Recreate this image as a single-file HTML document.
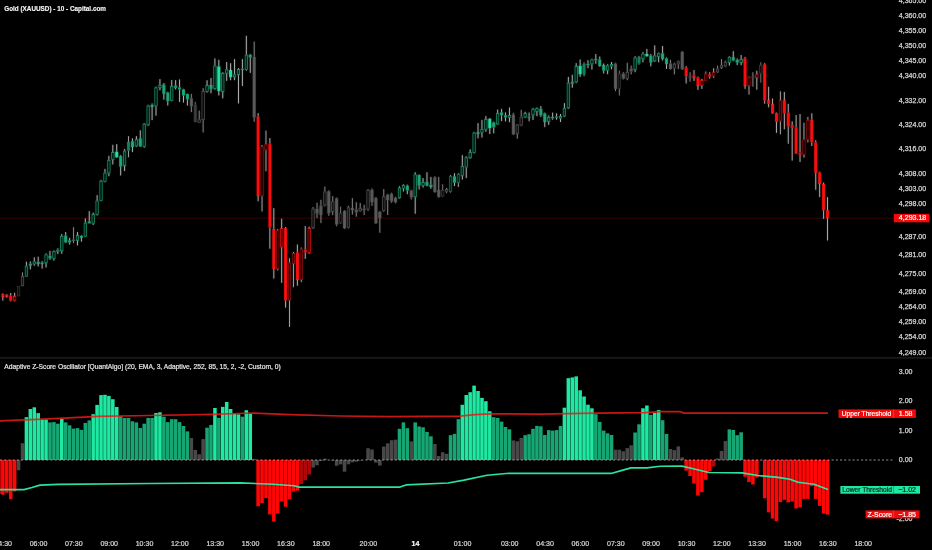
<!DOCTYPE html>
<html lang="en"><head><meta charset="utf-8"><title>Gold (XAUUSD) - Adaptive Z-Score Oscillator</title>
<style>html,body{margin:0;padding:0;background:#000;overflow:hidden}body{width:932px;height:550px}</style>
</head><body>
<svg width="932" height="550" viewBox="0 0 932 550" style="display:block">
<rect x="0" y="0" width="932" height="550" fill="#000"/>
<line x1="0" y1="218.2" x2="894" y2="218.2" stroke="#5a0606" stroke-width="0.9" stroke-opacity="0.7"/>
<defs><filter id="soft" x="-2%" y="-2%" width="104%" height="104%"><feConvolveMatrix order="3" kernelMatrix="0.01 0.045 0.01 0.045 0.78 0.045 0.01 0.045 0.01" divisor="1" edgeMode="none" preserveAlpha="false"/></filter></defs>
<g id="candles" filter="url(#soft)">
<line x1="2.86" y1="293.4" x2="2.86" y2="294.1" stroke="#e0d8d8" stroke-width="0.9"/>
<line x1="2.86" y1="297.0" x2="2.86" y2="300.7" stroke="#e0d8d8" stroke-width="0.9"/>
<rect x="1.31" y="294.1" width="3.1" height="2.9" fill="#ff0a0a"/>
<line x1="6.78" y1="294.1" x2="6.78" y2="294.8" stroke="#e0d8d8" stroke-width="0.9"/>
<line x1="6.78" y1="297.0" x2="6.78" y2="297.7" stroke="#e0d8d8" stroke-width="0.9"/>
<rect x="5.23" y="294.8" width="3.1" height="2.2" fill="#ff0a0a"/>
<line x1="10.71" y1="293.0" x2="10.71" y2="295.6" stroke="#e0d8d8" stroke-width="0.9"/>
<line x1="10.71" y1="300.7" x2="10.71" y2="301.4" stroke="#e0d8d8" stroke-width="0.9"/>
<rect x="9.16" y="295.6" width="3.1" height="5.1" fill="#ff0a0a"/>
<line x1="14.64" y1="292.7" x2="14.64" y2="296.0" stroke="#e0d8d8" stroke-width="0.9"/>
<line x1="14.64" y1="300.7" x2="14.64" y2="301.4" stroke="#e0d8d8" stroke-width="0.9"/>
<rect x="13.46" y="296.4" width="2.35" height="3.9" fill="#000" stroke="#ff0a0a" stroke-width="0.75"/>
<rect x="17.39" y="286.5" width="2.35" height="9.4" fill="#000" stroke="#3c3c3c" stroke-width="0.75"/>
<line x1="22.49" y1="272.3" x2="22.49" y2="275.9" stroke="#a8a8a8" stroke-width="0.9"/>
<rect x="21.32" y="276.3" width="2.35" height="9.5" fill="#000" stroke="#5c5c5c" stroke-width="0.75"/>
<line x1="26.42" y1="261.7" x2="26.42" y2="265.7" stroke="#e0e0e0" stroke-width="0.9"/>
<rect x="25.24" y="266.1" width="2.35" height="10.2" fill="#000" stroke="#1aa87a" stroke-width="0.75"/>
<line x1="30.35" y1="261.4" x2="30.35" y2="263.6" stroke="#e0e0e0" stroke-width="0.9"/>
<line x1="30.35" y1="265.7" x2="30.35" y2="269.4" stroke="#e0e0e0" stroke-width="0.9"/>
<rect x="28.80" y="263.6" width="3.1" height="2.1" fill="#1aa87a"/>
<line x1="34.27" y1="257.3" x2="34.27" y2="261.4" stroke="#e0e0e0" stroke-width="0.9"/>
<line x1="34.27" y1="264.3" x2="34.27" y2="265.7" stroke="#e0e0e0" stroke-width="0.9"/>
<rect x="33.10" y="261.8" width="2.35" height="2.2" fill="#000" stroke="#1aa87a" stroke-width="0.75"/>
<line x1="38.20" y1="256.7" x2="38.20" y2="261.7" stroke="#e0e0e0" stroke-width="0.9"/>
<line x1="38.20" y1="264.0" x2="38.20" y2="266.5" stroke="#e0e0e0" stroke-width="0.9"/>
<rect x="36.65" y="261.7" width="3.1" height="2.3" fill="#1aa87a"/>
<line x1="42.13" y1="261.1" x2="42.13" y2="262.5" stroke="#e0e0e0" stroke-width="0.9"/>
<line x1="42.13" y1="264.0" x2="42.13" y2="268.6" stroke="#e0e0e0" stroke-width="0.9"/>
<rect x="40.58" y="262.5" width="3.1" height="1.5" fill="#1aa87a"/>
<line x1="46.05" y1="253.4" x2="46.05" y2="254.5" stroke="#e0e0e0" stroke-width="0.9"/>
<line x1="46.05" y1="263.1" x2="46.05" y2="267.5" stroke="#e0e0e0" stroke-width="0.9"/>
<rect x="44.88" y="254.9" width="2.35" height="7.9" fill="#000" stroke="#1aa87a" stroke-width="0.75"/>
<line x1="49.98" y1="250.9" x2="49.98" y2="255.8" stroke="#e0e0e0" stroke-width="0.9"/>
<line x1="49.98" y1="258.5" x2="49.98" y2="259.9" stroke="#e0e0e0" stroke-width="0.9"/>
<rect x="48.43" y="255.8" width="3.1" height="2.7" fill="#1aa87a"/>
<line x1="53.91" y1="250.5" x2="53.91" y2="251.2" stroke="#e0e0e0" stroke-width="0.9"/>
<line x1="53.91" y1="258.8" x2="53.91" y2="260.6" stroke="#e0e0e0" stroke-width="0.9"/>
<rect x="52.73" y="251.6" width="2.35" height="6.9" fill="#000" stroke="#1aa87a" stroke-width="0.75"/>
<line x1="57.84" y1="248.3" x2="57.84" y2="249.7" stroke="#e0e0e0" stroke-width="0.9"/>
<line x1="57.84" y1="251.9" x2="57.84" y2="254.1" stroke="#e0e0e0" stroke-width="0.9"/>
<rect x="56.66" y="250.1" width="2.35" height="1.5" fill="#000" stroke="#1aa87a" stroke-width="0.75"/>
<line x1="61.76" y1="234.0" x2="61.76" y2="235.9" stroke="#e0e0e0" stroke-width="0.9"/>
<line x1="61.76" y1="251.2" x2="61.76" y2="253.8" stroke="#e0e0e0" stroke-width="0.9"/>
<rect x="60.59" y="236.3" width="2.35" height="14.5" fill="#000" stroke="#1aa87a" stroke-width="0.75"/>
<line x1="65.69" y1="232.0" x2="65.69" y2="235.5" stroke="#e0e0e0" stroke-width="0.9"/>
<line x1="65.69" y1="242.5" x2="65.69" y2="243.2" stroke="#e0e0e0" stroke-width="0.9"/>
<rect x="64.14" y="235.5" width="3.1" height="7.0" fill="#1aa87a"/>
<line x1="69.62" y1="237.8" x2="69.62" y2="240.3" stroke="#e0e0e0" stroke-width="0.9"/>
<line x1="69.62" y1="242.5" x2="69.62" y2="244.6" stroke="#e0e0e0" stroke-width="0.9"/>
<rect x="68.07" y="240.3" width="3.1" height="2.2" fill="#1aa87a"/>
<line x1="73.54" y1="227.2" x2="73.54" y2="239.5" stroke="#a8a8a8" stroke-width="0.9"/>
<line x1="73.54" y1="241.0" x2="73.54" y2="243.2" stroke="#a8a8a8" stroke-width="0.9"/>
<rect x="71.99" y="239.5" width="3.1" height="1.5" fill="#5c5c5c"/>
<line x1="77.47" y1="232.0" x2="77.47" y2="235.2" stroke="#e0e0e0" stroke-width="0.9"/>
<line x1="77.47" y1="240.7" x2="77.47" y2="245.4" stroke="#e0e0e0" stroke-width="0.9"/>
<rect x="76.30" y="235.6" width="2.35" height="4.8" fill="#000" stroke="#1aa87a" stroke-width="0.75"/>
<line x1="81.40" y1="235.2" x2="81.40" y2="235.9" stroke="#e0e0e0" stroke-width="0.9"/>
<line x1="81.40" y1="238.1" x2="81.40" y2="241.7" stroke="#e0e0e0" stroke-width="0.9"/>
<rect x="79.85" y="235.9" width="3.1" height="2.2" fill="#1aa87a"/>
<line x1="85.32" y1="218.4" x2="85.32" y2="222.7" stroke="#e0e0e0" stroke-width="0.9"/>
<line x1="85.32" y1="236.6" x2="85.32" y2="237.0" stroke="#e0e0e0" stroke-width="0.9"/>
<rect x="84.15" y="223.1" width="2.35" height="13.2" fill="#000" stroke="#1aa87a" stroke-width="0.75"/>
<line x1="89.25" y1="211.1" x2="89.25" y2="221.3" stroke="#e0e0e0" stroke-width="0.9"/>
<rect x="87.70" y="221.3" width="3.1" height="2.2" fill="#1aa87a"/>
<line x1="93.18" y1="212.6" x2="93.18" y2="214.0" stroke="#e0e0e0" stroke-width="0.9"/>
<line x1="93.18" y1="223.5" x2="93.18" y2="225.0" stroke="#e0e0e0" stroke-width="0.9"/>
<rect x="92.00" y="214.4" width="2.35" height="8.8" fill="#000" stroke="#1aa87a" stroke-width="0.75"/>
<line x1="97.11" y1="195.1" x2="97.11" y2="200.6" stroke="#e0e0e0" stroke-width="0.9"/>
<line x1="97.11" y1="214.7" x2="97.11" y2="215.5" stroke="#e0e0e0" stroke-width="0.9"/>
<rect x="95.93" y="201.0" width="2.35" height="13.3" fill="#000" stroke="#1aa87a" stroke-width="0.75"/>
<line x1="101.03" y1="179.8" x2="101.03" y2="180.8" stroke="#e0e0e0" stroke-width="0.9"/>
<line x1="101.03" y1="200.9" x2="101.03" y2="201.2" stroke="#e0e0e0" stroke-width="0.9"/>
<rect x="99.86" y="181.2" width="2.35" height="19.3" fill="#000" stroke="#1aa87a" stroke-width="0.75"/>
<line x1="104.96" y1="168.9" x2="104.96" y2="172.6" stroke="#e0e0e0" stroke-width="0.9"/>
<line x1="104.96" y1="181.7" x2="104.96" y2="182.3" stroke="#e0e0e0" stroke-width="0.9"/>
<rect x="103.78" y="173.0" width="2.35" height="8.3" fill="#000" stroke="#1aa87a" stroke-width="0.75"/>
<line x1="108.89" y1="155.8" x2="108.89" y2="159.9" stroke="#e0e0e0" stroke-width="0.9"/>
<line x1="108.89" y1="173.3" x2="108.89" y2="176.2" stroke="#e0e0e0" stroke-width="0.9"/>
<rect x="107.71" y="160.3" width="2.35" height="12.7" fill="#000" stroke="#1aa87a" stroke-width="0.75"/>
<line x1="112.81" y1="144.8" x2="112.81" y2="152.2" stroke="#e0e0e0" stroke-width="0.9"/>
<line x1="112.81" y1="159.9" x2="112.81" y2="164.5" stroke="#e0e0e0" stroke-width="0.9"/>
<rect x="111.64" y="152.6" width="2.35" height="7.0" fill="#000" stroke="#1aa87a" stroke-width="0.75"/>
<line x1="116.74" y1="144.1" x2="116.74" y2="151.7" stroke="#e6e6e6" stroke-width="0.9"/>
<line x1="116.74" y1="157.3" x2="116.74" y2="158.0" stroke="#e6e6e6" stroke-width="0.9"/>
<rect x="115.19" y="151.7" width="3.1" height="5.6" fill="#24e8a2"/>
<line x1="120.67" y1="155.1" x2="120.67" y2="156.1" stroke="#e0e0e0" stroke-width="0.9"/>
<line x1="120.67" y1="166.7" x2="120.67" y2="175.5" stroke="#e0e0e0" stroke-width="0.9"/>
<rect x="119.12" y="156.1" width="3.1" height="10.6" fill="#1aa87a"/>
<line x1="124.59" y1="149.0" x2="124.59" y2="150.7" stroke="#e0e0e0" stroke-width="0.9"/>
<line x1="124.59" y1="166.0" x2="124.59" y2="171.1" stroke="#e0e0e0" stroke-width="0.9"/>
<rect x="123.42" y="151.1" width="2.35" height="14.6" fill="#000" stroke="#1aa87a" stroke-width="0.75"/>
<line x1="128.52" y1="136.1" x2="128.52" y2="141.9" stroke="#c8c8c8" stroke-width="0.9"/>
<line x1="128.52" y1="150.7" x2="128.52" y2="157.3" stroke="#c8c8c8" stroke-width="0.9"/>
<rect x="126.97" y="141.9" width="3.1" height="8.8" fill="#15805c"/>
<line x1="132.45" y1="138.3" x2="132.45" y2="141.2" stroke="#e0e0e0" stroke-width="0.9"/>
<line x1="132.45" y1="147.0" x2="132.45" y2="152.1" stroke="#e0e0e0" stroke-width="0.9"/>
<rect x="130.90" y="141.2" width="3.1" height="5.8" fill="#1aa87a"/>
<line x1="136.38" y1="136.1" x2="136.38" y2="139.0" stroke="#e0e0e0" stroke-width="0.9"/>
<line x1="136.38" y1="146.3" x2="136.38" y2="147.0" stroke="#e0e0e0" stroke-width="0.9"/>
<rect x="135.20" y="139.4" width="2.35" height="6.6" fill="#000" stroke="#1aa87a" stroke-width="0.75"/>
<line x1="140.30" y1="130.3" x2="140.30" y2="138.3" stroke="#e0e0e0" stroke-width="0.9"/>
<line x1="140.30" y1="146.6" x2="140.30" y2="147.0" stroke="#e0e0e0" stroke-width="0.9"/>
<rect x="138.75" y="138.3" width="3.1" height="8.3" fill="#1aa87a"/>
<line x1="144.23" y1="123.0" x2="144.23" y2="123.7" stroke="#e0e0e0" stroke-width="0.9"/>
<line x1="144.23" y1="147.0" x2="144.23" y2="147.7" stroke="#e0e0e0" stroke-width="0.9"/>
<rect x="143.05" y="124.1" width="2.35" height="22.5" fill="#000" stroke="#1aa87a" stroke-width="0.75"/>
<line x1="148.16" y1="104.8" x2="148.16" y2="105.6" stroke="#e0e0e0" stroke-width="0.9"/>
<line x1="148.16" y1="125.2" x2="148.16" y2="125.9" stroke="#e0e0e0" stroke-width="0.9"/>
<rect x="146.98" y="106.0" width="2.35" height="18.9" fill="#000" stroke="#1aa87a" stroke-width="0.75"/>
<line x1="152.08" y1="103.4" x2="152.08" y2="104.8" stroke="#e0e0e0" stroke-width="0.9"/>
<line x1="152.08" y1="107.0" x2="152.08" y2="120.1" stroke="#e0e0e0" stroke-width="0.9"/>
<rect x="150.53" y="104.8" width="3.1" height="2.2" fill="#1aa87a"/>
<line x1="156.01" y1="86.6" x2="156.01" y2="87.4" stroke="#e0e0e0" stroke-width="0.9"/>
<line x1="156.01" y1="106.3" x2="156.01" y2="115.7" stroke="#e0e0e0" stroke-width="0.9"/>
<rect x="154.83" y="87.8" width="2.35" height="18.1" fill="#000" stroke="#1aa87a" stroke-width="0.75"/>
<line x1="159.94" y1="79.1" x2="159.94" y2="84.9" stroke="#e0e0e0" stroke-width="0.9"/>
<line x1="159.94" y1="87.8" x2="159.94" y2="90.3" stroke="#e0e0e0" stroke-width="0.9"/>
<rect x="158.76" y="85.3" width="2.35" height="2.1" fill="#000" stroke="#1aa87a" stroke-width="0.75"/>
<line x1="163.86" y1="83.0" x2="163.86" y2="84.5" stroke="#e0e0e0" stroke-width="0.9"/>
<line x1="163.86" y1="93.9" x2="163.86" y2="99.7" stroke="#e0e0e0" stroke-width="0.9"/>
<rect x="162.31" y="84.5" width="3.1" height="9.4" fill="#1aa87a"/>
<line x1="167.79" y1="91.7" x2="167.79" y2="92.5" stroke="#e0e0e0" stroke-width="0.9"/>
<line x1="167.79" y1="101.2" x2="167.79" y2="105.6" stroke="#e0e0e0" stroke-width="0.9"/>
<rect x="166.24" y="92.5" width="3.1" height="8.7" fill="#1aa87a"/>
<line x1="171.72" y1="80.1" x2="171.72" y2="85.9" stroke="#e0e0e0" stroke-width="0.9"/>
<line x1="171.72" y1="100.9" x2="171.72" y2="101.2" stroke="#e0e0e0" stroke-width="0.9"/>
<rect x="170.54" y="86.3" width="2.35" height="14.2" fill="#000" stroke="#1aa87a" stroke-width="0.75"/>
<line x1="175.64" y1="80.1" x2="175.64" y2="85.5" stroke="#e0e0e0" stroke-width="0.9"/>
<line x1="175.64" y1="87.8" x2="175.64" y2="89.5" stroke="#e0e0e0" stroke-width="0.9"/>
<rect x="174.09" y="85.5" width="3.1" height="2.3" fill="#1aa87a"/>
<line x1="179.57" y1="79.4" x2="179.57" y2="87.4" stroke="#e0e0e0" stroke-width="0.9"/>
<line x1="179.57" y1="89.5" x2="179.57" y2="101.9" stroke="#e0e0e0" stroke-width="0.9"/>
<rect x="178.02" y="87.4" width="3.1" height="2.1" fill="#1aa87a"/>
<line x1="183.50" y1="88.8" x2="183.50" y2="89.3" stroke="#e0e0e0" stroke-width="0.9"/>
<line x1="183.50" y1="95.4" x2="183.50" y2="102.6" stroke="#e0e0e0" stroke-width="0.9"/>
<rect x="181.95" y="89.3" width="3.1" height="6.1" fill="#1aa87a"/>
<line x1="187.43" y1="93.6" x2="187.43" y2="93.9" stroke="#e0e0e0" stroke-width="0.9"/>
<line x1="187.43" y1="99.4" x2="187.43" y2="105.6" stroke="#e0e0e0" stroke-width="0.9"/>
<rect x="185.88" y="93.9" width="3.1" height="5.5" fill="#1aa87a"/>
<line x1="191.35" y1="93.9" x2="191.35" y2="98.3" stroke="#a8a8a8" stroke-width="0.9"/>
<line x1="191.35" y1="106.3" x2="191.35" y2="112.1" stroke="#a8a8a8" stroke-width="0.9"/>
<rect x="189.80" y="98.3" width="3.1" height="8.0" fill="#5c5c5c"/>
<line x1="195.28" y1="101.9" x2="195.28" y2="104.8" stroke="#909090" stroke-width="0.9"/>
<rect x="193.73" y="104.8" width="3.1" height="17.5" fill="#3c3c3c"/>
<line x1="199.21" y1="110.6" x2="199.21" y2="119.4" stroke="#a8a8a8" stroke-width="0.9"/>
<rect x="198.03" y="119.8" width="2.35" height="2.5" fill="#000" stroke="#5c5c5c" stroke-width="0.75"/>
<line x1="203.13" y1="88.1" x2="203.13" y2="91.0" stroke="#a8a8a8" stroke-width="0.9"/>
<line x1="203.13" y1="120.1" x2="203.13" y2="132.5" stroke="#a8a8a8" stroke-width="0.9"/>
<rect x="201.96" y="91.4" width="2.35" height="28.3" fill="#000" stroke="#5c5c5c" stroke-width="0.75"/>
<line x1="207.06" y1="80.2" x2="207.06" y2="85.0" stroke="#e0e0e0" stroke-width="0.9"/>
<line x1="207.06" y1="91.8" x2="207.06" y2="92.6" stroke="#e0e0e0" stroke-width="0.9"/>
<rect x="205.89" y="85.4" width="2.35" height="6.0" fill="#000" stroke="#1aa87a" stroke-width="0.75"/>
<line x1="210.99" y1="78.0" x2="210.99" y2="85.0" stroke="#e0e0e0" stroke-width="0.9"/>
<line x1="210.99" y1="88.9" x2="210.99" y2="93.3" stroke="#e0e0e0" stroke-width="0.9"/>
<rect x="209.44" y="85.0" width="3.1" height="3.9" fill="#1aa87a"/>
<line x1="214.92" y1="58.4" x2="214.92" y2="65.6" stroke="#e0e0e0" stroke-width="0.9"/>
<line x1="214.92" y1="88.9" x2="214.92" y2="89.7" stroke="#e0e0e0" stroke-width="0.9"/>
<rect x="213.74" y="66.0" width="2.35" height="22.6" fill="#000" stroke="#1aa87a" stroke-width="0.75"/>
<line x1="218.84" y1="59.8" x2="218.84" y2="66.4" stroke="#e6e6e6" stroke-width="0.9"/>
<line x1="218.84" y1="91.1" x2="218.84" y2="95.5" stroke="#e6e6e6" stroke-width="0.9"/>
<rect x="217.29" y="66.4" width="3.1" height="24.7" fill="#24e8a2"/>
<line x1="222.77" y1="72.2" x2="222.77" y2="72.9" stroke="#e0e0e0" stroke-width="0.9"/>
<line x1="222.77" y1="91.8" x2="222.77" y2="98.4" stroke="#e0e0e0" stroke-width="0.9"/>
<rect x="221.59" y="73.3" width="2.35" height="18.1" fill="#000" stroke="#1aa87a" stroke-width="0.75"/>
<line x1="226.70" y1="62.0" x2="226.70" y2="69.3" stroke="#e0e0e0" stroke-width="0.9"/>
<line x1="226.70" y1="73.6" x2="226.70" y2="80.9" stroke="#e0e0e0" stroke-width="0.9"/>
<rect x="225.52" y="69.7" width="2.35" height="3.5" fill="#000" stroke="#1aa87a" stroke-width="0.75"/>
<line x1="230.62" y1="63.2" x2="230.62" y2="70.0" stroke="#e6e6e6" stroke-width="0.9"/>
<line x1="230.62" y1="77.3" x2="230.62" y2="80.2" stroke="#e6e6e6" stroke-width="0.9"/>
<rect x="229.07" y="70.0" width="3.1" height="7.3" fill="#24e8a2"/>
<line x1="234.55" y1="59.1" x2="234.55" y2="74.4" stroke="#e0e0e0" stroke-width="0.9"/>
<line x1="234.55" y1="77.3" x2="234.55" y2="80.2" stroke="#e0e0e0" stroke-width="0.9"/>
<rect x="233.38" y="74.8" width="2.35" height="2.1" fill="#000" stroke="#1aa87a" stroke-width="0.75"/>
<line x1="238.48" y1="68.1" x2="238.48" y2="69.0" stroke="#e0e0e0" stroke-width="0.9"/>
<line x1="238.48" y1="75.1" x2="238.48" y2="103.5" stroke="#e0e0e0" stroke-width="0.9"/>
<rect x="237.30" y="69.4" width="2.35" height="5.3" fill="#000" stroke="#1aa87a" stroke-width="0.75"/>
<line x1="242.40" y1="59.1" x2="242.40" y2="68.7" stroke="#e0e0e0" stroke-width="0.9"/>
<line x1="242.40" y1="69.9" x2="242.40" y2="86.0" stroke="#e0e0e0" stroke-width="0.9"/>
<rect x="240.85" y="68.7" width="3.1" height="1.2" fill="#1aa87a"/>
<line x1="246.33" y1="35.8" x2="246.33" y2="54.7" stroke="#e0e0e0" stroke-width="0.9"/>
<line x1="246.33" y1="70.0" x2="246.33" y2="70.7" stroke="#e0e0e0" stroke-width="0.9"/>
<rect x="245.16" y="55.1" width="2.35" height="14.5" fill="#000" stroke="#1aa87a" stroke-width="0.75"/>
<line x1="250.26" y1="54.0" x2="250.26" y2="54.7" stroke="#e0e0e0" stroke-width="0.9"/>
<line x1="250.26" y1="57.6" x2="250.26" y2="72.9" stroke="#e0e0e0" stroke-width="0.9"/>
<rect x="248.71" y="54.7" width="3.1" height="2.9" fill="#1aa87a"/>
<line x1="254.19" y1="41.6" x2="254.19" y2="56.9" stroke="#a8a8a8" stroke-width="0.9"/>
<line x1="254.19" y1="117.5" x2="254.19" y2="121.8" stroke="#a8a8a8" stroke-width="0.9"/>
<rect x="252.63" y="56.9" width="3.1" height="60.6" fill="#5c5c5c"/>
<line x1="258.11" y1="113.1" x2="258.11" y2="116.7" stroke="#e0d8d8" stroke-width="0.9"/>
<line x1="258.11" y1="195.9" x2="258.11" y2="201.3" stroke="#e0d8d8" stroke-width="0.9"/>
<rect x="256.56" y="116.7" width="3.1" height="79.2" fill="#ff0a0a"/>
<line x1="262.04" y1="145.0" x2="262.04" y2="146.6" stroke="#d0c8c8" stroke-width="0.9"/>
<line x1="262.04" y1="196.2" x2="262.04" y2="211.5" stroke="#d0c8c8" stroke-width="0.9"/>
<rect x="260.86" y="147.0" width="2.35" height="48.8" fill="#000" stroke="#a80c0c" stroke-width="0.75"/>
<line x1="265.97" y1="130.6" x2="265.97" y2="144.4" stroke="#d0c8c8" stroke-width="0.9"/>
<line x1="265.97" y1="150.2" x2="265.97" y2="171.3" stroke="#d0c8c8" stroke-width="0.9"/>
<rect x="264.79" y="144.8" width="2.35" height="5.0" fill="#000" stroke="#a80c0c" stroke-width="0.75"/>
<line x1="269.89" y1="138.1" x2="269.89" y2="143.6" stroke="#e0d8d8" stroke-width="0.9"/>
<line x1="269.89" y1="227.5" x2="269.89" y2="248.7" stroke="#e0d8d8" stroke-width="0.9"/>
<rect x="268.34" y="143.6" width="3.1" height="83.9" fill="#ff0a0a"/>
<line x1="273.82" y1="208.1" x2="273.82" y2="228.9" stroke="#e0d8d8" stroke-width="0.9"/>
<line x1="273.82" y1="269.1" x2="273.82" y2="278.6" stroke="#e0d8d8" stroke-width="0.9"/>
<rect x="272.27" y="228.9" width="3.1" height="40.2" fill="#ff0a0a"/>
<line x1="277.75" y1="229.0" x2="277.75" y2="230.4" stroke="#d0c8c8" stroke-width="0.9"/>
<line x1="277.75" y1="269.1" x2="277.75" y2="270.5" stroke="#d0c8c8" stroke-width="0.9"/>
<rect x="276.57" y="230.8" width="2.35" height="38.0" fill="#000" stroke="#a80c0c" stroke-width="0.75"/>
<line x1="281.67" y1="218.7" x2="281.67" y2="228.2" stroke="#e0d8d8" stroke-width="0.9"/>
<line x1="281.67" y1="247.3" x2="281.67" y2="282.9" stroke="#e0d8d8" stroke-width="0.9"/>
<rect x="280.50" y="228.6" width="2.35" height="18.4" fill="#000" stroke="#ff0a0a" stroke-width="0.75"/>
<line x1="285.60" y1="227.0" x2="285.60" y2="228.2" stroke="#e0d8d8" stroke-width="0.9"/>
<line x1="285.60" y1="300.4" x2="285.60" y2="307.7" stroke="#e0d8d8" stroke-width="0.9"/>
<rect x="284.05" y="228.2" width="3.1" height="72.2" fill="#ff0a0a"/>
<line x1="289.53" y1="258.2" x2="289.53" y2="262.6" stroke="#d0c8c8" stroke-width="0.9"/>
<line x1="289.53" y1="300.4" x2="289.53" y2="327.0" stroke="#d0c8c8" stroke-width="0.9"/>
<rect x="288.35" y="263.0" width="2.35" height="37.0" fill="#000" stroke="#a80c0c" stroke-width="0.75"/>
<line x1="293.45" y1="252.0" x2="293.45" y2="253.1" stroke="#d0c8c8" stroke-width="0.9"/>
<line x1="293.45" y1="264.0" x2="293.45" y2="287.3" stroke="#d0c8c8" stroke-width="0.9"/>
<rect x="292.28" y="253.5" width="2.35" height="10.2" fill="#000" stroke="#a80c0c" stroke-width="0.75"/>
<line x1="297.38" y1="244.4" x2="297.38" y2="252.4" stroke="#e0d8d8" stroke-width="0.9"/>
<line x1="297.38" y1="280.0" x2="297.38" y2="285.8" stroke="#e0d8d8" stroke-width="0.9"/>
<rect x="295.83" y="252.4" width="3.1" height="27.6" fill="#ff0a0a"/>
<line x1="301.31" y1="247.5" x2="301.31" y2="248.7" stroke="#d0c8c8" stroke-width="0.9"/>
<line x1="301.31" y1="280.0" x2="301.31" y2="282.2" stroke="#d0c8c8" stroke-width="0.9"/>
<rect x="300.13" y="249.1" width="2.35" height="30.6" fill="#000" stroke="#a80c0c" stroke-width="0.75"/>
<line x1="305.24" y1="226.0" x2="305.24" y2="249.5" stroke="#e0d8d8" stroke-width="0.9"/>
<line x1="305.24" y1="252.4" x2="305.24" y2="258.9" stroke="#e0d8d8" stroke-width="0.9"/>
<rect x="303.69" y="249.5" width="3.1" height="2.9" fill="#ff0a0a"/>
<line x1="309.16" y1="226.7" x2="309.16" y2="228.2" stroke="#e0d8d8" stroke-width="0.9"/>
<line x1="309.16" y1="253.1" x2="309.16" y2="253.8" stroke="#e0d8d8" stroke-width="0.9"/>
<rect x="307.99" y="228.6" width="2.35" height="24.2" fill="#000" stroke="#ff0a0a" stroke-width="0.75"/>
<line x1="313.09" y1="207.0" x2="313.09" y2="208.6" stroke="#a8a8a8" stroke-width="0.9"/>
<line x1="313.09" y1="228.2" x2="313.09" y2="229.0" stroke="#a8a8a8" stroke-width="0.9"/>
<rect x="311.91" y="209.0" width="2.35" height="18.8" fill="#000" stroke="#5c5c5c" stroke-width="0.75"/>
<line x1="317.02" y1="202.7" x2="317.02" y2="208.6" stroke="#a8a8a8" stroke-width="0.9"/>
<line x1="317.02" y1="213.7" x2="317.02" y2="218.0" stroke="#a8a8a8" stroke-width="0.9"/>
<rect x="315.47" y="208.6" width="3.1" height="5.1" fill="#5c5c5c"/>
<line x1="320.94" y1="199.8" x2="320.94" y2="205.5" stroke="#a8a8a8" stroke-width="0.9"/>
<line x1="320.94" y1="215.0" x2="320.94" y2="223.1" stroke="#a8a8a8" stroke-width="0.9"/>
<rect x="319.39" y="205.5" width="3.1" height="9.5" fill="#5c5c5c"/>
<line x1="324.87" y1="186.6" x2="324.87" y2="191.5" stroke="#a8a8a8" stroke-width="0.9"/>
<line x1="324.87" y1="205.3" x2="324.87" y2="206.4" stroke="#a8a8a8" stroke-width="0.9"/>
<rect x="323.70" y="191.9" width="2.35" height="13.1" fill="#000" stroke="#5c5c5c" stroke-width="0.75"/>
<line x1="328.80" y1="190.4" x2="328.80" y2="191.2" stroke="#a8a8a8" stroke-width="0.9"/>
<line x1="328.80" y1="213.5" x2="328.80" y2="215.8" stroke="#a8a8a8" stroke-width="0.9"/>
<rect x="327.25" y="191.2" width="3.1" height="22.3" fill="#5c5c5c"/>
<line x1="332.72" y1="196.1" x2="332.72" y2="201.4" stroke="#a8a8a8" stroke-width="0.9"/>
<line x1="332.72" y1="212.0" x2="332.72" y2="215.2" stroke="#a8a8a8" stroke-width="0.9"/>
<rect x="331.55" y="201.8" width="2.35" height="9.8" fill="#000" stroke="#5c5c5c" stroke-width="0.75"/>
<line x1="336.65" y1="197.5" x2="336.65" y2="198.2" stroke="#a8a8a8" stroke-width="0.9"/>
<line x1="336.65" y1="224.5" x2="336.65" y2="226.2" stroke="#a8a8a8" stroke-width="0.9"/>
<rect x="335.10" y="198.2" width="3.1" height="26.3" fill="#5c5c5c"/>
<line x1="340.58" y1="206.6" x2="340.58" y2="213.1" stroke="#909090" stroke-width="0.9"/>
<line x1="340.58" y1="223.3" x2="340.58" y2="224.0" stroke="#909090" stroke-width="0.9"/>
<rect x="339.40" y="213.5" width="2.35" height="9.5" fill="#000" stroke="#3c3c3c" stroke-width="0.75"/>
<line x1="344.51" y1="210.2" x2="344.51" y2="210.9" stroke="#a8a8a8" stroke-width="0.9"/>
<line x1="344.51" y1="228.4" x2="344.51" y2="229.1" stroke="#a8a8a8" stroke-width="0.9"/>
<rect x="342.96" y="210.9" width="3.1" height="17.5" fill="#5c5c5c"/>
<line x1="348.43" y1="205.8" x2="348.43" y2="207.3" stroke="#a8a8a8" stroke-width="0.9"/>
<line x1="348.43" y1="227.7" x2="348.43" y2="228.4" stroke="#a8a8a8" stroke-width="0.9"/>
<rect x="347.26" y="207.7" width="2.35" height="19.6" fill="#000" stroke="#5c5c5c" stroke-width="0.75"/>
<line x1="352.36" y1="198.1" x2="352.36" y2="208.0" stroke="#a8a8a8" stroke-width="0.9"/>
<line x1="352.36" y1="210.2" x2="352.36" y2="214.6" stroke="#a8a8a8" stroke-width="0.9"/>
<rect x="350.81" y="208.0" width="3.1" height="2.2" fill="#5c5c5c"/>
<line x1="356.29" y1="202.2" x2="356.29" y2="209.5" stroke="#a8a8a8" stroke-width="0.9"/>
<line x1="356.29" y1="212.4" x2="356.29" y2="216.7" stroke="#a8a8a8" stroke-width="0.9"/>
<rect x="354.74" y="209.5" width="3.1" height="2.9" fill="#5c5c5c"/>
<line x1="360.21" y1="202.9" x2="360.21" y2="208.0" stroke="#a8a8a8" stroke-width="0.9"/>
<line x1="360.21" y1="211.2" x2="360.21" y2="211.7" stroke="#a8a8a8" stroke-width="0.9"/>
<rect x="359.04" y="208.4" width="2.35" height="2.4" fill="#000" stroke="#5c5c5c" stroke-width="0.75"/>
<line x1="364.14" y1="204.8" x2="364.14" y2="208.7" stroke="#a8a8a8" stroke-width="0.9"/>
<line x1="364.14" y1="210.2" x2="364.14" y2="215.0" stroke="#a8a8a8" stroke-width="0.9"/>
<rect x="362.59" y="208.7" width="3.1" height="1.5" fill="#5c5c5c"/>
<line x1="368.07" y1="189.1" x2="368.07" y2="189.8" stroke="#a8a8a8" stroke-width="0.9"/>
<line x1="368.07" y1="209.5" x2="368.07" y2="210.9" stroke="#a8a8a8" stroke-width="0.9"/>
<rect x="366.89" y="190.2" width="2.35" height="18.9" fill="#000" stroke="#5c5c5c" stroke-width="0.75"/>
<line x1="372.00" y1="188.4" x2="372.00" y2="189.8" stroke="#a8a8a8" stroke-width="0.9"/>
<line x1="372.00" y1="202.2" x2="372.00" y2="205.8" stroke="#a8a8a8" stroke-width="0.9"/>
<rect x="370.44" y="189.8" width="3.1" height="12.4" fill="#5c5c5c"/>
<line x1="375.92" y1="197.1" x2="375.92" y2="198.1" stroke="#a8a8a8" stroke-width="0.9"/>
<line x1="375.92" y1="223.3" x2="375.92" y2="224.0" stroke="#a8a8a8" stroke-width="0.9"/>
<rect x="374.37" y="198.1" width="3.1" height="25.2" fill="#5c5c5c"/>
<line x1="379.85" y1="210.9" x2="379.85" y2="211.7" stroke="#a8a8a8" stroke-width="0.9"/>
<line x1="379.85" y1="218.2" x2="379.85" y2="232.8" stroke="#a8a8a8" stroke-width="0.9"/>
<rect x="378.30" y="211.7" width="3.1" height="6.5" fill="#5c5c5c"/>
<line x1="383.78" y1="189.1" x2="383.78" y2="196.4" stroke="#a8a8a8" stroke-width="0.9"/>
<line x1="383.78" y1="210.9" x2="383.78" y2="211.7" stroke="#a8a8a8" stroke-width="0.9"/>
<rect x="382.60" y="196.8" width="2.35" height="13.8" fill="#000" stroke="#5c5c5c" stroke-width="0.75"/>
<line x1="387.70" y1="193.8" x2="387.70" y2="194.6" stroke="#a8a8a8" stroke-width="0.9"/>
<line x1="387.70" y1="200.0" x2="387.70" y2="215.0" stroke="#a8a8a8" stroke-width="0.9"/>
<rect x="386.15" y="194.6" width="3.1" height="5.4" fill="#5c5c5c"/>
<line x1="391.63" y1="192.7" x2="391.63" y2="193.8" stroke="#a8a8a8" stroke-width="0.9"/>
<line x1="391.63" y1="201.5" x2="391.63" y2="202.9" stroke="#a8a8a8" stroke-width="0.9"/>
<rect x="390.08" y="193.8" width="3.1" height="7.7" fill="#5c5c5c"/>
<line x1="395.56" y1="196.7" x2="395.56" y2="197.8" stroke="#a8a8a8" stroke-width="0.9"/>
<line x1="395.56" y1="202.2" x2="395.56" y2="203.4" stroke="#a8a8a8" stroke-width="0.9"/>
<rect x="394.01" y="197.8" width="3.1" height="4.4" fill="#5c5c5c"/>
<line x1="399.48" y1="186.2" x2="399.48" y2="187.6" stroke="#e0e0e0" stroke-width="0.9"/>
<line x1="399.48" y1="198.1" x2="399.48" y2="198.6" stroke="#e0e0e0" stroke-width="0.9"/>
<rect x="398.31" y="188.0" width="2.35" height="9.8" fill="#000" stroke="#1aa87a" stroke-width="0.75"/>
<line x1="403.41" y1="184.3" x2="403.41" y2="185.0" stroke="#e0e0e0" stroke-width="0.9"/>
<line x1="403.41" y1="188.5" x2="403.41" y2="191.5" stroke="#e0e0e0" stroke-width="0.9"/>
<rect x="402.24" y="185.4" width="2.35" height="2.8" fill="#000" stroke="#1aa87a" stroke-width="0.75"/>
<line x1="407.34" y1="184.6" x2="407.34" y2="185.6" stroke="#e0e0e0" stroke-width="0.9"/>
<line x1="407.34" y1="190.6" x2="407.34" y2="194.2" stroke="#e0e0e0" stroke-width="0.9"/>
<rect x="405.79" y="185.6" width="3.1" height="5.0" fill="#1aa87a"/>
<line x1="411.26" y1="189.8" x2="411.26" y2="190.3" stroke="#a8a8a8" stroke-width="0.9"/>
<line x1="411.26" y1="197.4" x2="411.26" y2="199.5" stroke="#a8a8a8" stroke-width="0.9"/>
<rect x="409.71" y="190.3" width="3.1" height="7.1" fill="#5c5c5c"/>
<line x1="415.19" y1="172.2" x2="415.19" y2="174.4" stroke="#e0e0e0" stroke-width="0.9"/>
<line x1="415.19" y1="197.2" x2="415.19" y2="213.8" stroke="#e0e0e0" stroke-width="0.9"/>
<rect x="414.02" y="174.8" width="2.35" height="22.0" fill="#000" stroke="#1aa87a" stroke-width="0.75"/>
<line x1="419.12" y1="174.5" x2="419.12" y2="175.0" stroke="#e0e0e0" stroke-width="0.9"/>
<line x1="419.12" y1="185.7" x2="419.12" y2="189.6" stroke="#e0e0e0" stroke-width="0.9"/>
<rect x="417.57" y="175.0" width="3.1" height="10.7" fill="#1aa87a"/>
<line x1="423.05" y1="178.0" x2="423.05" y2="182.0" stroke="#e0e0e0" stroke-width="0.9"/>
<line x1="423.05" y1="185.7" x2="423.05" y2="187.6" stroke="#e0e0e0" stroke-width="0.9"/>
<rect x="421.87" y="182.4" width="2.35" height="2.9" fill="#000" stroke="#1aa87a" stroke-width="0.75"/>
<line x1="426.97" y1="172.2" x2="426.97" y2="181.8" stroke="#e0e0e0" stroke-width="0.9"/>
<line x1="426.97" y1="185.9" x2="426.97" y2="186.3" stroke="#e0e0e0" stroke-width="0.9"/>
<rect x="425.42" y="181.8" width="3.1" height="4.1" fill="#1aa87a"/>
<line x1="430.90" y1="176.9" x2="430.90" y2="184.6" stroke="#e0e0e0" stroke-width="0.9"/>
<line x1="430.90" y1="187.0" x2="430.90" y2="188.8" stroke="#e0e0e0" stroke-width="0.9"/>
<rect x="429.35" y="184.6" width="3.1" height="2.4" fill="#1aa87a"/>
<line x1="434.83" y1="176.2" x2="434.83" y2="177.3" stroke="#a8a8a8" stroke-width="0.9"/>
<line x1="434.83" y1="192.0" x2="434.83" y2="192.7" stroke="#a8a8a8" stroke-width="0.9"/>
<rect x="433.28" y="177.3" width="3.1" height="14.7" fill="#5c5c5c"/>
<line x1="438.75" y1="176.9" x2="438.75" y2="190.0" stroke="#a8a8a8" stroke-width="0.9"/>
<line x1="438.75" y1="196.9" x2="438.75" y2="197.7" stroke="#a8a8a8" stroke-width="0.9"/>
<rect x="437.20" y="190.0" width="3.1" height="6.9" fill="#5c5c5c"/>
<line x1="442.68" y1="184.2" x2="442.68" y2="190.0" stroke="#909090" stroke-width="0.9"/>
<line x1="442.68" y1="196.4" x2="442.68" y2="197.1" stroke="#909090" stroke-width="0.9"/>
<rect x="441.51" y="190.4" width="2.35" height="5.7" fill="#000" stroke="#3c3c3c" stroke-width="0.75"/>
<line x1="446.61" y1="187.9" x2="446.61" y2="189.0" stroke="#a8a8a8" stroke-width="0.9"/>
<line x1="446.61" y1="191.6" x2="446.61" y2="193.2" stroke="#a8a8a8" stroke-width="0.9"/>
<rect x="445.43" y="189.4" width="2.35" height="1.8" fill="#000" stroke="#5c5c5c" stroke-width="0.75"/>
<line x1="450.53" y1="175.0" x2="450.53" y2="175.9" stroke="#c8c8c8" stroke-width="0.9"/>
<line x1="450.53" y1="192.0" x2="450.53" y2="192.5" stroke="#c8c8c8" stroke-width="0.9"/>
<rect x="449.36" y="176.3" width="2.35" height="15.3" fill="#000" stroke="#15805c" stroke-width="0.75"/>
<line x1="454.46" y1="173.2" x2="454.46" y2="176.3" stroke="#e0e0e0" stroke-width="0.9"/>
<line x1="454.46" y1="182.7" x2="454.46" y2="186.0" stroke="#e0e0e0" stroke-width="0.9"/>
<rect x="452.91" y="176.3" width="3.1" height="6.4" fill="#1aa87a"/>
<line x1="458.39" y1="173.3" x2="458.39" y2="174.1" stroke="#c8c8c8" stroke-width="0.9"/>
<line x1="458.39" y1="183.1" x2="458.39" y2="187.0" stroke="#c8c8c8" stroke-width="0.9"/>
<rect x="457.21" y="174.5" width="2.35" height="8.2" fill="#000" stroke="#15805c" stroke-width="0.75"/>
<line x1="462.32" y1="155.1" x2="462.32" y2="165.9" stroke="#e0e0e0" stroke-width="0.9"/>
<line x1="462.32" y1="176.0" x2="462.32" y2="179.6" stroke="#e0e0e0" stroke-width="0.9"/>
<rect x="461.14" y="166.3" width="2.35" height="9.3" fill="#000" stroke="#1aa87a" stroke-width="0.75"/>
<line x1="466.24" y1="156.3" x2="466.24" y2="157.3" stroke="#e0e0e0" stroke-width="0.9"/>
<line x1="466.24" y1="167.5" x2="466.24" y2="178.1" stroke="#e0e0e0" stroke-width="0.9"/>
<rect x="465.07" y="157.7" width="2.35" height="9.4" fill="#000" stroke="#1aa87a" stroke-width="0.75"/>
<line x1="470.17" y1="149.3" x2="470.17" y2="152.2" stroke="#e0e0e0" stroke-width="0.9"/>
<line x1="470.17" y1="158.0" x2="470.17" y2="158.7" stroke="#e0e0e0" stroke-width="0.9"/>
<rect x="469.00" y="152.6" width="2.35" height="5.1" fill="#000" stroke="#1aa87a" stroke-width="0.75"/>
<line x1="474.10" y1="131.8" x2="474.10" y2="132.6" stroke="#e0e0e0" stroke-width="0.9"/>
<line x1="474.10" y1="152.9" x2="474.10" y2="153.4" stroke="#e0e0e0" stroke-width="0.9"/>
<rect x="472.92" y="133.0" width="2.35" height="19.6" fill="#000" stroke="#1aa87a" stroke-width="0.75"/>
<line x1="478.02" y1="123.1" x2="478.02" y2="132.1" stroke="#e0e0e0" stroke-width="0.9"/>
<line x1="478.02" y1="134.0" x2="478.02" y2="138.4" stroke="#e0e0e0" stroke-width="0.9"/>
<rect x="476.47" y="132.1" width="3.1" height="1.9" fill="#1aa87a"/>
<line x1="481.95" y1="119.9" x2="481.95" y2="128.9" stroke="#e0e0e0" stroke-width="0.9"/>
<line x1="481.95" y1="132.6" x2="481.95" y2="137.6" stroke="#e0e0e0" stroke-width="0.9"/>
<rect x="480.78" y="129.3" width="2.35" height="2.9" fill="#000" stroke="#1aa87a" stroke-width="0.75"/>
<line x1="485.88" y1="116.1" x2="485.88" y2="119.0" stroke="#e0e0e0" stroke-width="0.9"/>
<line x1="485.88" y1="129.6" x2="485.88" y2="131.8" stroke="#e0e0e0" stroke-width="0.9"/>
<rect x="484.70" y="119.4" width="2.35" height="9.8" fill="#000" stroke="#1aa87a" stroke-width="0.75"/>
<line x1="489.81" y1="118.0" x2="489.81" y2="118.7" stroke="#e6e6e6" stroke-width="0.9"/>
<line x1="489.81" y1="128.2" x2="489.81" y2="134.0" stroke="#e6e6e6" stroke-width="0.9"/>
<rect x="488.25" y="118.7" width="3.1" height="9.5" fill="#24e8a2"/>
<line x1="493.73" y1="121.6" x2="493.73" y2="122.4" stroke="#e0e0e0" stroke-width="0.9"/>
<line x1="493.73" y1="127.5" x2="493.73" y2="133.3" stroke="#e0e0e0" stroke-width="0.9"/>
<rect x="492.18" y="122.4" width="3.1" height="5.1" fill="#1aa87a"/>
<line x1="497.66" y1="109.5" x2="497.66" y2="112.9" stroke="#e0e0e0" stroke-width="0.9"/>
<line x1="497.66" y1="124.5" x2="497.66" y2="125.0" stroke="#e0e0e0" stroke-width="0.9"/>
<rect x="496.48" y="113.3" width="2.35" height="10.8" fill="#000" stroke="#1aa87a" stroke-width="0.75"/>
<line x1="501.59" y1="108.9" x2="501.59" y2="112.3" stroke="#e0e0e0" stroke-width="0.9"/>
<line x1="501.59" y1="115.3" x2="501.59" y2="121.1" stroke="#e0e0e0" stroke-width="0.9"/>
<rect x="500.04" y="112.3" width="3.1" height="3.0" fill="#1aa87a"/>
<line x1="505.51" y1="112.4" x2="505.51" y2="115.3" stroke="#e0e0e0" stroke-width="0.9"/>
<line x1="505.51" y1="117.5" x2="505.51" y2="121.4" stroke="#e0e0e0" stroke-width="0.9"/>
<rect x="503.96" y="115.3" width="3.1" height="2.2" fill="#1aa87a"/>
<line x1="509.44" y1="107.5" x2="509.44" y2="115.2" stroke="#e0e0e0" stroke-width="0.9"/>
<line x1="509.44" y1="117.7" x2="509.44" y2="122.2" stroke="#e0e0e0" stroke-width="0.9"/>
<rect x="508.26" y="115.6" width="2.35" height="1.8" fill="#000" stroke="#1aa87a" stroke-width="0.75"/>
<line x1="513.37" y1="112.9" x2="513.37" y2="114.5" stroke="#a8a8a8" stroke-width="0.9"/>
<line x1="513.37" y1="134.5" x2="513.37" y2="135.0" stroke="#a8a8a8" stroke-width="0.9"/>
<rect x="511.82" y="114.5" width="3.1" height="20.0" fill="#5c5c5c"/>
<line x1="517.29" y1="124.0" x2="517.29" y2="124.5" stroke="#a8a8a8" stroke-width="0.9"/>
<line x1="517.29" y1="134.0" x2="517.29" y2="138.7" stroke="#a8a8a8" stroke-width="0.9"/>
<rect x="516.12" y="124.9" width="2.35" height="8.8" fill="#000" stroke="#5c5c5c" stroke-width="0.75"/>
<line x1="521.22" y1="109.8" x2="521.22" y2="116.7" stroke="#a8a8a8" stroke-width="0.9"/>
<line x1="521.22" y1="125.6" x2="521.22" y2="126.2" stroke="#a8a8a8" stroke-width="0.9"/>
<rect x="520.05" y="117.1" width="2.35" height="8.1" fill="#000" stroke="#5c5c5c" stroke-width="0.75"/>
<line x1="525.15" y1="111.8" x2="525.15" y2="113.0" stroke="#e0e0e0" stroke-width="0.9"/>
<line x1="525.15" y1="117.4" x2="525.15" y2="118.1" stroke="#e0e0e0" stroke-width="0.9"/>
<rect x="523.97" y="113.4" width="2.35" height="3.7" fill="#000" stroke="#1aa87a" stroke-width="0.75"/>
<line x1="529.08" y1="112.5" x2="529.08" y2="116.6" stroke="#e0e0e0" stroke-width="0.9"/>
<line x1="529.08" y1="117.8" x2="529.08" y2="121.3" stroke="#e0e0e0" stroke-width="0.9"/>
<rect x="527.53" y="116.6" width="3.1" height="1.2" fill="#1aa87a"/>
<line x1="533.00" y1="107.9" x2="533.00" y2="108.8" stroke="#e0e0e0" stroke-width="0.9"/>
<line x1="533.00" y1="115.2" x2="533.00" y2="120.0" stroke="#e0e0e0" stroke-width="0.9"/>
<rect x="531.83" y="109.2" width="2.35" height="5.7" fill="#000" stroke="#1aa87a" stroke-width="0.75"/>
<line x1="536.93" y1="107.5" x2="536.93" y2="108.2" stroke="#e0e0e0" stroke-width="0.9"/>
<line x1="536.93" y1="111.8" x2="536.93" y2="116.2" stroke="#e0e0e0" stroke-width="0.9"/>
<rect x="535.75" y="108.6" width="2.35" height="2.8" fill="#000" stroke="#1aa87a" stroke-width="0.75"/>
<line x1="540.86" y1="106.0" x2="540.86" y2="108.9" stroke="#e0e0e0" stroke-width="0.9"/>
<line x1="540.86" y1="115.5" x2="540.86" y2="116.9" stroke="#e0e0e0" stroke-width="0.9"/>
<rect x="539.31" y="108.9" width="3.1" height="6.6" fill="#1aa87a"/>
<line x1="544.78" y1="112.6" x2="544.78" y2="113.3" stroke="#e0e0e0" stroke-width="0.9"/>
<line x1="544.78" y1="122.0" x2="544.78" y2="127.1" stroke="#e0e0e0" stroke-width="0.9"/>
<rect x="543.23" y="113.3" width="3.1" height="8.7" fill="#1aa87a"/>
<line x1="548.71" y1="115.5" x2="548.71" y2="116.9" stroke="#e0e0e0" stroke-width="0.9"/>
<line x1="548.71" y1="122.0" x2="548.71" y2="124.9" stroke="#e0e0e0" stroke-width="0.9"/>
<rect x="547.54" y="117.3" width="2.35" height="4.3" fill="#000" stroke="#1aa87a" stroke-width="0.75"/>
<line x1="552.64" y1="112.6" x2="552.64" y2="116.9" stroke="#e0e0e0" stroke-width="0.9"/>
<line x1="552.64" y1="118.4" x2="552.64" y2="119.8" stroke="#e0e0e0" stroke-width="0.9"/>
<rect x="551.09" y="116.9" width="3.1" height="1.5" fill="#1aa87a"/>
<line x1="556.56" y1="113.3" x2="556.56" y2="116.5" stroke="#e0e0e0" stroke-width="0.9"/>
<line x1="556.56" y1="117.6" x2="556.56" y2="119.8" stroke="#e0e0e0" stroke-width="0.9"/>
<rect x="555.01" y="116.5" width="3.1" height="1.2" fill="#1aa87a"/>
<line x1="560.49" y1="114.0" x2="560.49" y2="116.2" stroke="#e0e0e0" stroke-width="0.9"/>
<line x1="560.49" y1="118.4" x2="560.49" y2="122.0" stroke="#e0e0e0" stroke-width="0.9"/>
<rect x="559.32" y="116.6" width="2.35" height="1.5" fill="#000" stroke="#1aa87a" stroke-width="0.75"/>
<line x1="564.42" y1="103.1" x2="564.42" y2="107.9" stroke="#e0e0e0" stroke-width="0.9"/>
<line x1="564.42" y1="116.6" x2="564.42" y2="117.2" stroke="#e0e0e0" stroke-width="0.9"/>
<rect x="563.24" y="108.3" width="2.35" height="7.9" fill="#000" stroke="#1aa87a" stroke-width="0.75"/>
<line x1="568.35" y1="76.9" x2="568.35" y2="82.7" stroke="#e0e0e0" stroke-width="0.9"/>
<line x1="568.35" y1="108.2" x2="568.35" y2="108.9" stroke="#e0e0e0" stroke-width="0.9"/>
<rect x="567.17" y="83.1" width="2.35" height="24.8" fill="#000" stroke="#1aa87a" stroke-width="0.75"/>
<line x1="572.27" y1="74.7" x2="572.27" y2="81.7" stroke="#e0e0e0" stroke-width="0.9"/>
<line x1="572.27" y1="83.8" x2="572.27" y2="87.8" stroke="#e0e0e0" stroke-width="0.9"/>
<rect x="570.72" y="81.7" width="3.1" height="2.1" fill="#1aa87a"/>
<line x1="576.20" y1="63.1" x2="576.20" y2="66.0" stroke="#e0e0e0" stroke-width="0.9"/>
<line x1="576.20" y1="82.3" x2="576.20" y2="83.2" stroke="#e0e0e0" stroke-width="0.9"/>
<rect x="575.02" y="66.4" width="2.35" height="15.5" fill="#000" stroke="#1aa87a" stroke-width="0.75"/>
<line x1="580.13" y1="59.5" x2="580.13" y2="65.7" stroke="#e6e6e6" stroke-width="0.9"/>
<line x1="580.13" y1="74.4" x2="580.13" y2="76.9" stroke="#e6e6e6" stroke-width="0.9"/>
<rect x="578.58" y="65.7" width="3.1" height="8.7" fill="#24e8a2"/>
<line x1="584.05" y1="62.4" x2="584.05" y2="63.8" stroke="#c8c8c8" stroke-width="0.9"/>
<line x1="584.05" y1="74.4" x2="584.05" y2="76.2" stroke="#c8c8c8" stroke-width="0.9"/>
<rect x="582.50" y="63.8" width="3.1" height="10.6" fill="#15805c"/>
<line x1="587.98" y1="60.2" x2="587.98" y2="63.8" stroke="#e0e0e0" stroke-width="0.9"/>
<line x1="587.98" y1="65.3" x2="587.98" y2="68.2" stroke="#e0e0e0" stroke-width="0.9"/>
<rect x="586.43" y="63.8" width="3.1" height="1.5" fill="#1aa87a"/>
<line x1="591.91" y1="58.7" x2="591.91" y2="59.5" stroke="#e0e0e0" stroke-width="0.9"/>
<line x1="591.91" y1="64.3" x2="591.91" y2="69.6" stroke="#e0e0e0" stroke-width="0.9"/>
<rect x="590.73" y="59.9" width="2.35" height="4.0" fill="#000" stroke="#1aa87a" stroke-width="0.75"/>
<line x1="595.83" y1="54.1" x2="595.83" y2="58.7" stroke="#e0e0e0" stroke-width="0.9"/>
<line x1="595.83" y1="60.2" x2="595.83" y2="63.8" stroke="#e0e0e0" stroke-width="0.9"/>
<rect x="594.28" y="58.7" width="3.1" height="1.5" fill="#1aa87a"/>
<line x1="599.76" y1="56.5" x2="599.76" y2="59.5" stroke="#e0e0e0" stroke-width="0.9"/>
<line x1="599.76" y1="66.0" x2="599.76" y2="66.7" stroke="#e0e0e0" stroke-width="0.9"/>
<rect x="598.21" y="59.5" width="3.1" height="6.5" fill="#1aa87a"/>
<line x1="603.69" y1="63.5" x2="603.69" y2="65.0" stroke="#e0e0e0" stroke-width="0.9"/>
<line x1="603.69" y1="70.6" x2="603.69" y2="73.5" stroke="#e0e0e0" stroke-width="0.9"/>
<rect x="602.14" y="65.0" width="3.1" height="5.6" fill="#1aa87a"/>
<line x1="607.62" y1="64.2" x2="607.62" y2="65.5" stroke="#e0e0e0" stroke-width="0.9"/>
<line x1="607.62" y1="70.6" x2="607.62" y2="74.2" stroke="#e0e0e0" stroke-width="0.9"/>
<rect x="606.44" y="65.9" width="2.35" height="4.3" fill="#000" stroke="#1aa87a" stroke-width="0.75"/>
<line x1="611.54" y1="62.0" x2="611.54" y2="64.2" stroke="#e0e0e0" stroke-width="0.9"/>
<line x1="611.54" y1="66.4" x2="611.54" y2="69.3" stroke="#e0e0e0" stroke-width="0.9"/>
<rect x="610.37" y="64.6" width="2.35" height="1.5" fill="#000" stroke="#1aa87a" stroke-width="0.75"/>
<line x1="615.47" y1="62.7" x2="615.47" y2="63.5" stroke="#a8a8a8" stroke-width="0.9"/>
<line x1="615.47" y1="88.9" x2="615.47" y2="91.1" stroke="#a8a8a8" stroke-width="0.9"/>
<rect x="613.92" y="63.5" width="3.1" height="25.4" fill="#5c5c5c"/>
<line x1="619.40" y1="70.7" x2="619.40" y2="73.6" stroke="#909090" stroke-width="0.9"/>
<line x1="619.40" y1="88.9" x2="619.40" y2="95.5" stroke="#909090" stroke-width="0.9"/>
<rect x="618.22" y="74.0" width="2.35" height="14.6" fill="#000" stroke="#3c3c3c" stroke-width="0.75"/>
<line x1="623.32" y1="72.2" x2="623.32" y2="73.6" stroke="#a8a8a8" stroke-width="0.9"/>
<line x1="623.32" y1="78.7" x2="623.32" y2="79.5" stroke="#a8a8a8" stroke-width="0.9"/>
<rect x="621.77" y="73.6" width="3.1" height="5.1" fill="#5c5c5c"/>
<line x1="627.25" y1="62.7" x2="627.25" y2="71.9" stroke="#a8a8a8" stroke-width="0.9"/>
<line x1="627.25" y1="78.7" x2="627.25" y2="80.2" stroke="#a8a8a8" stroke-width="0.9"/>
<rect x="626.08" y="72.3" width="2.35" height="6.0" fill="#000" stroke="#5c5c5c" stroke-width="0.75"/>
<line x1="631.18" y1="65.6" x2="631.18" y2="68.6" stroke="#a8a8a8" stroke-width="0.9"/>
<line x1="631.18" y1="71.5" x2="631.18" y2="74.4" stroke="#a8a8a8" stroke-width="0.9"/>
<rect x="629.63" y="68.6" width="3.1" height="2.9" fill="#5c5c5c"/>
<line x1="635.10" y1="56.2" x2="635.10" y2="57.6" stroke="#e0e0e0" stroke-width="0.9"/>
<line x1="635.10" y1="70.0" x2="635.10" y2="72.2" stroke="#e0e0e0" stroke-width="0.9"/>
<rect x="633.93" y="58.0" width="2.35" height="11.6" fill="#000" stroke="#1aa87a" stroke-width="0.75"/>
<line x1="639.03" y1="55.9" x2="639.03" y2="56.9" stroke="#c8c8c8" stroke-width="0.9"/>
<line x1="639.03" y1="63.5" x2="639.03" y2="64.6" stroke="#c8c8c8" stroke-width="0.9"/>
<rect x="637.48" y="56.9" width="3.1" height="6.6" fill="#15805c"/>
<line x1="642.96" y1="52.1" x2="642.96" y2="53.6" stroke="#e0e0e0" stroke-width="0.9"/>
<line x1="642.96" y1="59.1" x2="642.96" y2="62.3" stroke="#e0e0e0" stroke-width="0.9"/>
<rect x="641.78" y="54.0" width="2.35" height="4.8" fill="#000" stroke="#1aa87a" stroke-width="0.75"/>
<line x1="646.89" y1="48.9" x2="646.89" y2="54.0" stroke="#e6e6e6" stroke-width="0.9"/>
<line x1="646.89" y1="56.2" x2="646.89" y2="56.9" stroke="#e6e6e6" stroke-width="0.9"/>
<rect x="645.34" y="54.0" width="3.1" height="2.2" fill="#24e8a2"/>
<line x1="650.81" y1="54.0" x2="650.81" y2="55.5" stroke="#e0e0e0" stroke-width="0.9"/>
<line x1="650.81" y1="62.7" x2="650.81" y2="66.4" stroke="#e0e0e0" stroke-width="0.9"/>
<rect x="649.26" y="55.5" width="3.1" height="7.2" fill="#1aa87a"/>
<line x1="654.74" y1="45.3" x2="654.74" y2="55.5" stroke="#e0e0e0" stroke-width="0.9"/>
<line x1="654.74" y1="61.3" x2="654.74" y2="62.0" stroke="#e0e0e0" stroke-width="0.9"/>
<rect x="653.56" y="55.9" width="2.35" height="5.0" fill="#000" stroke="#1aa87a" stroke-width="0.75"/>
<line x1="658.67" y1="52.6" x2="658.67" y2="53.3" stroke="#e0e0e0" stroke-width="0.9"/>
<line x1="658.67" y1="56.9" x2="658.67" y2="62.3" stroke="#e0e0e0" stroke-width="0.9"/>
<rect x="657.49" y="53.7" width="2.35" height="2.9" fill="#000" stroke="#1aa87a" stroke-width="0.75"/>
<line x1="662.59" y1="46.0" x2="662.59" y2="53.3" stroke="#e0e0e0" stroke-width="0.9"/>
<line x1="662.59" y1="59.1" x2="662.59" y2="60.6" stroke="#e0e0e0" stroke-width="0.9"/>
<rect x="661.04" y="53.3" width="3.1" height="5.8" fill="#1aa87a"/>
<line x1="666.52" y1="57.4" x2="666.52" y2="58.4" stroke="#e0e0e0" stroke-width="0.9"/>
<line x1="666.52" y1="64.2" x2="666.52" y2="69.0" stroke="#e0e0e0" stroke-width="0.9"/>
<rect x="664.97" y="58.4" width="3.1" height="5.8" fill="#1aa87a"/>
<line x1="670.45" y1="59.8" x2="670.45" y2="63.5" stroke="#a8a8a8" stroke-width="0.9"/>
<line x1="670.45" y1="69.0" x2="670.45" y2="69.6" stroke="#a8a8a8" stroke-width="0.9"/>
<rect x="668.90" y="63.5" width="3.1" height="5.5" fill="#5c5c5c"/>
<line x1="674.37" y1="62.7" x2="674.37" y2="63.8" stroke="#a8a8a8" stroke-width="0.9"/>
<line x1="674.37" y1="68.6" x2="674.37" y2="74.4" stroke="#a8a8a8" stroke-width="0.9"/>
<rect x="673.20" y="64.2" width="2.35" height="4.0" fill="#000" stroke="#5c5c5c" stroke-width="0.75"/>
<line x1="678.30" y1="60.6" x2="678.30" y2="61.3" stroke="#a8a8a8" stroke-width="0.9"/>
<line x1="678.30" y1="64.2" x2="678.30" y2="69.0" stroke="#a8a8a8" stroke-width="0.9"/>
<rect x="677.13" y="61.7" width="2.35" height="2.2" fill="#000" stroke="#5c5c5c" stroke-width="0.75"/>
<line x1="682.23" y1="51.1" x2="682.23" y2="51.8" stroke="#a8a8a8" stroke-width="0.9"/>
<line x1="682.23" y1="69.3" x2="682.23" y2="70.0" stroke="#a8a8a8" stroke-width="0.9"/>
<rect x="680.68" y="51.8" width="3.1" height="17.5" fill="#5c5c5c"/>
<line x1="686.16" y1="66.1" x2="686.16" y2="67.5" stroke="#e0d8d8" stroke-width="0.9"/>
<line x1="686.16" y1="76.3" x2="686.16" y2="83.5" stroke="#e0d8d8" stroke-width="0.9"/>
<rect x="684.61" y="67.5" width="3.1" height="8.8" fill="#ff0a0a"/>
<line x1="690.08" y1="72.2" x2="690.08" y2="76.4" stroke="#a8a8a8" stroke-width="0.9"/>
<line x1="690.08" y1="77.6" x2="690.08" y2="81.7" stroke="#a8a8a8" stroke-width="0.9"/>
<rect x="688.53" y="76.4" width="3.1" height="1.2" fill="#5c5c5c"/>
<line x1="694.01" y1="70.0" x2="694.01" y2="74.6" stroke="#e0d8d8" stroke-width="0.9"/>
<line x1="694.01" y1="78.0" x2="694.01" y2="81.0" stroke="#e0d8d8" stroke-width="0.9"/>
<rect x="692.46" y="74.6" width="3.1" height="3.4" fill="#ff0a0a"/>
<line x1="697.94" y1="76.6" x2="697.94" y2="77.3" stroke="#e0d8d8" stroke-width="0.9"/>
<line x1="697.94" y1="86.0" x2="697.94" y2="89.9" stroke="#e0d8d8" stroke-width="0.9"/>
<rect x="696.39" y="77.3" width="3.1" height="8.7" fill="#ff0a0a"/>
<line x1="701.86" y1="78.9" x2="701.86" y2="80.2" stroke="#e0d8d8" stroke-width="0.9"/>
<line x1="701.86" y1="86.0" x2="701.86" y2="88.9" stroke="#e0d8d8" stroke-width="0.9"/>
<rect x="700.69" y="80.6" width="2.35" height="5.0" fill="#000" stroke="#ff0a0a" stroke-width="0.75"/>
<line x1="705.79" y1="71.5" x2="705.79" y2="73.6" stroke="#d0c8c8" stroke-width="0.9"/>
<line x1="705.79" y1="80.7" x2="705.79" y2="80.9" stroke="#d0c8c8" stroke-width="0.9"/>
<rect x="704.62" y="74.0" width="2.35" height="6.4" fill="#000" stroke="#a80c0c" stroke-width="0.75"/>
<line x1="709.72" y1="72.2" x2="709.72" y2="74.4" stroke="#e0d8d8" stroke-width="0.9"/>
<line x1="709.72" y1="76.6" x2="709.72" y2="78.7" stroke="#e0d8d8" stroke-width="0.9"/>
<rect x="708.17" y="74.4" width="3.1" height="2.2" fill="#ff0a0a"/>
<line x1="713.64" y1="68.1" x2="713.64" y2="72.2" stroke="#d0c8c8" stroke-width="0.9"/>
<line x1="713.64" y1="76.3" x2="713.64" y2="78.0" stroke="#d0c8c8" stroke-width="0.9"/>
<rect x="712.47" y="72.6" width="2.35" height="3.3" fill="#000" stroke="#a80c0c" stroke-width="0.75"/>
<line x1="717.57" y1="65.6" x2="717.57" y2="68.6" stroke="#a8a8a8" stroke-width="0.9"/>
<line x1="717.57" y1="72.2" x2="717.57" y2="72.9" stroke="#a8a8a8" stroke-width="0.9"/>
<rect x="716.40" y="69.0" width="2.35" height="2.9" fill="#000" stroke="#5c5c5c" stroke-width="0.75"/>
<line x1="721.50" y1="59.1" x2="721.50" y2="64.9" stroke="#a8a8a8" stroke-width="0.9"/>
<line x1="721.50" y1="68.1" x2="721.50" y2="69.0" stroke="#a8a8a8" stroke-width="0.9"/>
<rect x="720.32" y="65.3" width="2.35" height="2.4" fill="#000" stroke="#5c5c5c" stroke-width="0.75"/>
<line x1="725.43" y1="60.6" x2="725.43" y2="61.7" stroke="#a8a8a8" stroke-width="0.9"/>
<line x1="725.43" y1="66.4" x2="725.43" y2="67.1" stroke="#a8a8a8" stroke-width="0.9"/>
<rect x="724.25" y="62.1" width="2.35" height="4.0" fill="#000" stroke="#5c5c5c" stroke-width="0.75"/>
<line x1="729.35" y1="56.2" x2="729.35" y2="56.9" stroke="#e0e0e0" stroke-width="0.9"/>
<line x1="729.35" y1="62.7" x2="729.35" y2="65.6" stroke="#e0e0e0" stroke-width="0.9"/>
<rect x="728.18" y="57.3" width="2.35" height="5.1" fill="#000" stroke="#1aa87a" stroke-width="0.75"/>
<line x1="733.28" y1="51.1" x2="733.28" y2="56.9" stroke="#e0e0e0" stroke-width="0.9"/>
<line x1="733.28" y1="60.6" x2="733.28" y2="61.3" stroke="#e0e0e0" stroke-width="0.9"/>
<rect x="731.73" y="56.9" width="3.1" height="3.7" fill="#1aa87a"/>
<line x1="737.21" y1="58.4" x2="737.21" y2="59.8" stroke="#e0e0e0" stroke-width="0.9"/>
<line x1="737.21" y1="62.7" x2="737.21" y2="65.2" stroke="#e0e0e0" stroke-width="0.9"/>
<rect x="735.66" y="59.8" width="3.1" height="2.9" fill="#1aa87a"/>
<line x1="741.13" y1="55.0" x2="741.13" y2="59.1" stroke="#e0e0e0" stroke-width="0.9"/>
<line x1="741.13" y1="62.7" x2="741.13" y2="65.2" stroke="#e0e0e0" stroke-width="0.9"/>
<rect x="739.96" y="59.5" width="2.35" height="2.9" fill="#000" stroke="#1aa87a" stroke-width="0.75"/>
<line x1="745.06" y1="56.9" x2="745.06" y2="58.4" stroke="#e0d8d8" stroke-width="0.9"/>
<line x1="745.06" y1="86.0" x2="745.06" y2="88.9" stroke="#e0d8d8" stroke-width="0.9"/>
<rect x="743.51" y="58.4" width="3.1" height="27.6" fill="#ff0a0a"/>
<line x1="748.99" y1="76.6" x2="748.99" y2="77.3" stroke="#d0c8c8" stroke-width="0.9"/>
<line x1="748.99" y1="86.0" x2="748.99" y2="94.6" stroke="#d0c8c8" stroke-width="0.9"/>
<rect x="747.81" y="77.7" width="2.35" height="8.0" fill="#000" stroke="#a80c0c" stroke-width="0.75"/>
<line x1="752.91" y1="72.2" x2="752.91" y2="76.4" stroke="#a8a8a8" stroke-width="0.9"/>
<line x1="752.91" y1="77.6" x2="752.91" y2="86.7" stroke="#a8a8a8" stroke-width="0.9"/>
<rect x="751.36" y="76.4" width="3.1" height="1.2" fill="#5c5c5c"/>
<line x1="756.84" y1="70.7" x2="756.84" y2="74.4" stroke="#e0d8d8" stroke-width="0.9"/>
<line x1="756.84" y1="78.0" x2="756.84" y2="89.7" stroke="#e0d8d8" stroke-width="0.9"/>
<rect x="755.67" y="74.8" width="2.35" height="2.8" fill="#000" stroke="#ff0a0a" stroke-width="0.75"/>
<line x1="760.77" y1="62.3" x2="760.77" y2="64.9" stroke="#909090" stroke-width="0.9"/>
<line x1="760.77" y1="73.6" x2="760.77" y2="82.7" stroke="#909090" stroke-width="0.9"/>
<rect x="759.59" y="65.3" width="2.35" height="7.9" fill="#000" stroke="#3c3c3c" stroke-width="0.75"/>
<line x1="764.70" y1="63.2" x2="764.70" y2="64.2" stroke="#e0d8d8" stroke-width="0.9"/>
<line x1="764.70" y1="100.4" x2="764.70" y2="103.8" stroke="#e0d8d8" stroke-width="0.9"/>
<rect x="763.15" y="64.2" width="3.1" height="36.2" fill="#ff0a0a"/>
<line x1="768.62" y1="86.7" x2="768.62" y2="100.0" stroke="#e0d8d8" stroke-width="0.9"/>
<line x1="768.62" y1="103.8" x2="768.62" y2="107.3" stroke="#e0d8d8" stroke-width="0.9"/>
<rect x="767.07" y="100.0" width="3.1" height="3.8" fill="#ff0a0a"/>
<line x1="772.55" y1="98.5" x2="772.55" y2="104.0" stroke="#e0d8d8" stroke-width="0.9"/>
<line x1="772.55" y1="113.3" x2="772.55" y2="114.0" stroke="#e0d8d8" stroke-width="0.9"/>
<rect x="771.00" y="104.0" width="3.1" height="9.3" fill="#ff0a0a"/>
<line x1="776.48" y1="112.6" x2="776.48" y2="113.0" stroke="#e0d8d8" stroke-width="0.9"/>
<line x1="776.48" y1="121.7" x2="776.48" y2="132.9" stroke="#e0d8d8" stroke-width="0.9"/>
<rect x="774.93" y="113.0" width="3.1" height="8.7" fill="#ff0a0a"/>
<line x1="780.40" y1="91.3" x2="780.40" y2="100.3" stroke="#d0c8c8" stroke-width="0.9"/>
<line x1="780.40" y1="121.3" x2="780.40" y2="134.4" stroke="#d0c8c8" stroke-width="0.9"/>
<rect x="779.23" y="100.7" width="2.35" height="20.2" fill="#000" stroke="#a80c0c" stroke-width="0.75"/>
<line x1="784.33" y1="92.0" x2="784.33" y2="100.1" stroke="#e0d8d8" stroke-width="0.9"/>
<line x1="784.33" y1="113.3" x2="784.33" y2="129.3" stroke="#e0d8d8" stroke-width="0.9"/>
<rect x="782.78" y="100.1" width="3.1" height="13.2" fill="#ff0a0a"/>
<line x1="788.26" y1="103.9" x2="788.26" y2="112.6" stroke="#e0d8d8" stroke-width="0.9"/>
<line x1="788.26" y1="126.4" x2="788.26" y2="143.8" stroke="#e0d8d8" stroke-width="0.9"/>
<rect x="786.71" y="112.6" width="3.1" height="13.8" fill="#ff0a0a"/>
<line x1="792.18" y1="121.3" x2="792.18" y2="125.2" stroke="#e0d8d8" stroke-width="0.9"/>
<line x1="792.18" y1="127.8" x2="792.18" y2="160.6" stroke="#e0d8d8" stroke-width="0.9"/>
<rect x="790.63" y="125.2" width="3.1" height="2.6" fill="#ff0a0a"/>
<line x1="796.11" y1="115.0" x2="796.11" y2="127.5" stroke="#e0d8d8" stroke-width="0.9"/>
<line x1="796.11" y1="153.3" x2="796.11" y2="154.0" stroke="#e0d8d8" stroke-width="0.9"/>
<rect x="794.56" y="127.5" width="3.1" height="25.8" fill="#ff0a0a"/>
<line x1="800.04" y1="114.0" x2="800.04" y2="152.6" stroke="#e0d8d8" stroke-width="0.9"/>
<line x1="800.04" y1="154.7" x2="800.04" y2="162.0" stroke="#e0d8d8" stroke-width="0.9"/>
<rect x="798.49" y="152.6" width="3.1" height="2.1" fill="#ff0a0a"/>
<line x1="803.97" y1="122.7" x2="803.97" y2="139.5" stroke="#d0c8c8" stroke-width="0.9"/>
<line x1="803.97" y1="154.7" x2="803.97" y2="157.7" stroke="#d0c8c8" stroke-width="0.9"/>
<rect x="802.79" y="139.9" width="2.35" height="14.4" fill="#000" stroke="#a80c0c" stroke-width="0.75"/>
<line x1="807.89" y1="116.9" x2="807.89" y2="119.8" stroke="#d0c8c8" stroke-width="0.9"/>
<line x1="807.89" y1="140.2" x2="807.89" y2="142.4" stroke="#d0c8c8" stroke-width="0.9"/>
<rect x="806.72" y="120.2" width="2.35" height="19.6" fill="#000" stroke="#a80c0c" stroke-width="0.75"/>
<line x1="811.82" y1="113.3" x2="811.82" y2="119.8" stroke="#e0d8d8" stroke-width="0.9"/>
<line x1="811.82" y1="142.4" x2="811.82" y2="146.0" stroke="#e0d8d8" stroke-width="0.9"/>
<rect x="810.27" y="119.8" width="3.1" height="22.6" fill="#ff0a0a"/>
<line x1="815.75" y1="140.2" x2="815.75" y2="142.4" stroke="#e0d8d8" stroke-width="0.9"/>
<line x1="815.75" y1="172.8" x2="815.75" y2="189.8" stroke="#e0d8d8" stroke-width="0.9"/>
<rect x="814.20" y="142.4" width="3.1" height="30.4" fill="#ff0a0a"/>
<line x1="819.67" y1="171.6" x2="819.67" y2="172.4" stroke="#e0d8d8" stroke-width="0.9"/>
<line x1="819.67" y1="184.0" x2="819.67" y2="197.1" stroke="#e0d8d8" stroke-width="0.9"/>
<rect x="818.12" y="172.4" width="3.1" height="11.6" fill="#ff0a0a"/>
<line x1="823.60" y1="182.6" x2="823.60" y2="184.0" stroke="#e0d8d8" stroke-width="0.9"/>
<line x1="823.60" y1="210.2" x2="823.60" y2="218.9" stroke="#e0d8d8" stroke-width="0.9"/>
<rect x="822.05" y="184.0" width="3.1" height="26.2" fill="#ff0a0a"/>
<line x1="827.53" y1="197.1" x2="827.53" y2="210.2" stroke="#e0d8d8" stroke-width="0.9"/>
<line x1="827.53" y1="218.2" x2="827.53" y2="240.5" stroke="#e0d8d8" stroke-width="0.9"/>
<rect x="825.98" y="210.2" width="3.1" height="8.0" fill="#ff0a0a"/>
</g>
<text x="4.2" y="10.7" font-family="Liberation Sans, Arial, sans-serif" font-size="7.4" font-weight="bold" fill="#f6f6f6" stroke="#f6f6f6" stroke-width="0.15" textLength="101.8" lengthAdjust="spacingAndGlyphs">Gold (XAUUSD) - 10 - Capital.com</text>
<text x="926.2" y="2.5" font-family="Liberation Sans, Arial, sans-serif" font-size="7.05" fill="#d6d6d6" stroke="#d6d6d6" stroke-width="0.25" text-anchor="end">4,365.00</text>
<text x="926.2" y="17.6" font-family="Liberation Sans, Arial, sans-serif" font-size="7.05" fill="#d6d6d6" stroke="#d6d6d6" stroke-width="0.25" text-anchor="end">4,360.00</text>
<text x="926.2" y="32.8" font-family="Liberation Sans, Arial, sans-serif" font-size="7.05" fill="#d6d6d6" stroke="#d6d6d6" stroke-width="0.25" text-anchor="end">4,355.00</text>
<text x="926.2" y="48.0" font-family="Liberation Sans, Arial, sans-serif" font-size="7.05" fill="#d6d6d6" stroke="#d6d6d6" stroke-width="0.25" text-anchor="end">4,350.00</text>
<text x="926.2" y="63.2" font-family="Liberation Sans, Arial, sans-serif" font-size="7.05" fill="#d6d6d6" stroke="#d6d6d6" stroke-width="0.25" text-anchor="end">4,345.00</text>
<text x="926.2" y="78.3" font-family="Liberation Sans, Arial, sans-serif" font-size="7.05" fill="#d6d6d6" stroke="#d6d6d6" stroke-width="0.25" text-anchor="end">4,340.00</text>
<text x="926.2" y="102.6" font-family="Liberation Sans, Arial, sans-serif" font-size="7.05" fill="#d6d6d6" stroke="#d6d6d6" stroke-width="0.25" text-anchor="end">4,332.00</text>
<text x="926.2" y="126.9" font-family="Liberation Sans, Arial, sans-serif" font-size="7.05" fill="#d6d6d6" stroke="#d6d6d6" stroke-width="0.25" text-anchor="end">4,324.00</text>
<text x="926.2" y="151.2" font-family="Liberation Sans, Arial, sans-serif" font-size="7.05" fill="#d6d6d6" stroke="#d6d6d6" stroke-width="0.25" text-anchor="end">4,316.00</text>
<text x="926.2" y="175.5" font-family="Liberation Sans, Arial, sans-serif" font-size="7.05" fill="#d6d6d6" stroke="#d6d6d6" stroke-width="0.25" text-anchor="end">4,308.00</text>
<text x="926.2" y="190.6" font-family="Liberation Sans, Arial, sans-serif" font-size="7.05" fill="#d6d6d6" stroke="#d6d6d6" stroke-width="0.25" text-anchor="end">4,303.00</text>
<text x="926.2" y="205.8" font-family="Liberation Sans, Arial, sans-serif" font-size="7.05" fill="#d6d6d6" stroke="#d6d6d6" stroke-width="0.25" text-anchor="end">4,298.00</text>
<text x="926.2" y="239.2" font-family="Liberation Sans, Arial, sans-serif" font-size="7.05" fill="#d6d6d6" stroke="#d6d6d6" stroke-width="0.25" text-anchor="end">4,287.00</text>
<text x="926.2" y="257.4" font-family="Liberation Sans, Arial, sans-serif" font-size="7.05" fill="#d6d6d6" stroke="#d6d6d6" stroke-width="0.25" text-anchor="end">4,281.00</text>
<text x="926.2" y="275.6" font-family="Liberation Sans, Arial, sans-serif" font-size="7.05" fill="#d6d6d6" stroke="#d6d6d6" stroke-width="0.25" text-anchor="end">4,275.00</text>
<text x="926.2" y="293.8" font-family="Liberation Sans, Arial, sans-serif" font-size="7.05" fill="#d6d6d6" stroke="#d6d6d6" stroke-width="0.25" text-anchor="end">4,269.00</text>
<text x="926.2" y="309.0" font-family="Liberation Sans, Arial, sans-serif" font-size="7.05" fill="#d6d6d6" stroke="#d6d6d6" stroke-width="0.25" text-anchor="end">4,264.00</text>
<text x="926.2" y="324.2" font-family="Liberation Sans, Arial, sans-serif" font-size="7.05" fill="#d6d6d6" stroke="#d6d6d6" stroke-width="0.25" text-anchor="end">4,259.00</text>
<text x="926.2" y="339.4" font-family="Liberation Sans, Arial, sans-serif" font-size="7.05" fill="#d6d6d6" stroke="#d6d6d6" stroke-width="0.25" text-anchor="end">4,254.00</text>
<text x="926.2" y="354.5" font-family="Liberation Sans, Arial, sans-serif" font-size="7.05" fill="#d6d6d6" stroke="#d6d6d6" stroke-width="0.25" text-anchor="end">4,249.00</text>
<rect x="893.8" y="213.9" width="35.7" height="8.4" fill="#f20a0a"/>
<text x="926.3" y="220.3" font-family="Liberation Sans, Arial, sans-serif" font-size="7.05" fill="#fff" stroke="#fff" stroke-width="0.2" text-anchor="end">4,293.18</text>
<rect x="0" y="356.9" width="932" height="2" fill="#171717"/>
<text x="4.3" y="369.2" font-family="Liberation Sans, Arial, sans-serif" font-size="6.9" fill="#e8e8e8" stroke="#e8e8e8" stroke-width="0.2" textLength="276.4" lengthAdjust="spacingAndGlyphs">Adaptive Z-Score Oscillator [QuantAlgo] (20, EMA, 3, Adaptive, 252, 85, 15, 2, -2, Custom, 0)</text>
<g id="osc">
<rect x="-2.85" y="460.0" width="3.55" height="34.0" fill="#ff0606"/>
<rect x="1.08" y="460.0" width="3.55" height="34.7" fill="#ff0606"/>
<rect x="5.01" y="460.0" width="3.55" height="32.8" fill="#ff0606"/>
<rect x="8.94" y="460.0" width="3.55" height="39.2" fill="#ff0606"/>
<rect x="12.86" y="460.0" width="3.55" height="31.5" fill="#ff0606"/>
<rect x="16.79" y="460.0" width="3.55" height="10.3" fill="#484848"/>
<rect x="20.72" y="443.2" width="3.55" height="16.8" fill="#484848"/>
<rect x="24.64" y="417.2" width="3.55" height="42.8" fill="#1ee9a2"/>
<rect x="28.57" y="409.0" width="3.55" height="51.0" fill="#1ee9a2"/>
<rect x="32.50" y="407.3" width="3.55" height="52.7" fill="#1ee9a2"/>
<rect x="36.43" y="413.1" width="3.55" height="46.9" fill="#1ee9a2"/>
<rect x="40.35" y="419.6" width="3.55" height="40.4" fill="#1ee9a2"/>
<rect x="44.28" y="419.6" width="3.55" height="40.4" fill="#1ee9a2"/>
<rect x="48.21" y="422.4" width="3.55" height="37.6" fill="#16a674"/>
<rect x="52.13" y="422.1" width="3.55" height="37.9" fill="#16a674"/>
<rect x="56.06" y="423.7" width="3.55" height="36.3" fill="#16a674"/>
<rect x="59.99" y="418.8" width="3.55" height="41.2" fill="#1ee9a2"/>
<rect x="63.91" y="422.4" width="3.55" height="37.6" fill="#16a674"/>
<rect x="67.84" y="425.3" width="3.55" height="34.7" fill="#16a674"/>
<rect x="71.77" y="428.6" width="3.55" height="31.4" fill="#16a674"/>
<rect x="75.69" y="428.1" width="3.55" height="31.9" fill="#16a674"/>
<rect x="79.62" y="429.9" width="3.55" height="30.1" fill="#16a674"/>
<rect x="83.55" y="422.9" width="3.55" height="37.1" fill="#16a674"/>
<rect x="87.48" y="420.4" width="3.55" height="39.6" fill="#16a674"/>
<rect x="91.40" y="414.2" width="3.55" height="45.8" fill="#1ee9a2"/>
<rect x="95.33" y="404.9" width="3.55" height="55.1" fill="#1ee9a2"/>
<rect x="99.26" y="395.1" width="3.55" height="64.9" fill="#1ee9a2"/>
<rect x="103.18" y="394.8" width="3.55" height="65.2" fill="#1ee9a2"/>
<rect x="107.11" y="395.9" width="3.55" height="64.1" fill="#1ee9a2"/>
<rect x="111.04" y="399.2" width="3.55" height="60.8" fill="#1ee9a2"/>
<rect x="114.97" y="407.0" width="3.55" height="53.0" fill="#1ee9a2"/>
<rect x="118.89" y="416.3" width="3.55" height="43.7" fill="#16a674"/>
<rect x="122.82" y="418.0" width="3.55" height="42.0" fill="#16a674"/>
<rect x="126.75" y="418.0" width="3.55" height="42.0" fill="#16a674"/>
<rect x="130.67" y="421.3" width="3.55" height="38.7" fill="#16a674"/>
<rect x="134.60" y="422.4" width="3.55" height="37.6" fill="#16a674"/>
<rect x="138.53" y="428.0" width="3.55" height="32.0" fill="#16a674"/>
<rect x="142.45" y="423.7" width="3.55" height="36.3" fill="#16a674"/>
<rect x="146.38" y="417.9" width="3.55" height="42.1" fill="#16a674"/>
<rect x="150.31" y="417.9" width="3.55" height="42.1" fill="#16a674"/>
<rect x="154.23" y="413.0" width="3.55" height="47.0" fill="#1ee9a2"/>
<rect x="158.16" y="412.3" width="3.55" height="47.7" fill="#1ee9a2"/>
<rect x="162.09" y="416.7" width="3.55" height="43.3" fill="#16a674"/>
<rect x="166.02" y="422.1" width="3.55" height="37.9" fill="#16a674"/>
<rect x="169.94" y="419.2" width="3.55" height="40.8" fill="#16a674"/>
<rect x="173.87" y="419.2" width="3.55" height="40.8" fill="#16a674"/>
<rect x="177.80" y="422.1" width="3.55" height="37.9" fill="#16a674"/>
<rect x="181.72" y="426.0" width="3.55" height="34.0" fill="#16a674"/>
<rect x="185.65" y="431.4" width="3.55" height="28.6" fill="#16a674"/>
<rect x="189.58" y="438.0" width="3.55" height="22.0" fill="#484848"/>
<rect x="193.51" y="449.9" width="3.55" height="10.1" fill="#484848"/>
<rect x="197.43" y="454.3" width="3.55" height="5.7" fill="#484848"/>
<rect x="201.36" y="439.1" width="3.55" height="20.9" fill="#484848"/>
<rect x="205.29" y="427.7" width="3.55" height="32.3" fill="#16a674"/>
<rect x="209.21" y="424.9" width="3.55" height="35.1" fill="#16a674"/>
<rect x="213.14" y="408.0" width="3.55" height="52.0" fill="#1ee9a2"/>
<rect x="217.07" y="417.9" width="3.55" height="42.1" fill="#16a674"/>
<rect x="220.99" y="406.9" width="3.55" height="53.1" fill="#1ee9a2"/>
<rect x="224.92" y="402.0" width="3.55" height="58.0" fill="#1ee9a2"/>
<rect x="228.85" y="409.0" width="3.55" height="51.0" fill="#1ee9a2"/>
<rect x="232.78" y="413.9" width="3.55" height="46.1" fill="#1ee9a2"/>
<rect x="236.70" y="414.3" width="3.55" height="45.7" fill="#1ee9a2"/>
<rect x="240.63" y="416.7" width="3.55" height="43.3" fill="#16a674"/>
<rect x="244.56" y="410.2" width="3.55" height="49.8" fill="#1ee9a2"/>
<rect x="248.48" y="413.9" width="3.55" height="46.1" fill="#1ee9a2"/>
<rect x="252.41" y="459.0" width="3.55" height="1.0" fill="#484848"/>
<rect x="256.34" y="460.0" width="3.55" height="46.3" fill="#ff0606"/>
<rect x="260.26" y="460.0" width="3.55" height="43.0" fill="#ff0606"/>
<rect x="264.19" y="460.0" width="3.55" height="38.1" fill="#ff0606"/>
<rect x="268.12" y="460.0" width="3.55" height="54.4" fill="#ff0606"/>
<rect x="272.05" y="460.0" width="3.55" height="61.5" fill="#ff0606"/>
<rect x="275.97" y="460.0" width="3.55" height="53.6" fill="#ff0606"/>
<rect x="279.90" y="460.0" width="3.55" height="41.3" fill="#ff0606"/>
<rect x="283.83" y="460.0" width="3.55" height="46.7" fill="#ff0606"/>
<rect x="287.75" y="460.0" width="3.55" height="39.2" fill="#ff0606"/>
<rect x="291.68" y="460.0" width="3.55" height="31.5" fill="#ff0606"/>
<rect x="295.61" y="460.0" width="3.55" height="30.7" fill="#ff0606"/>
<rect x="299.53" y="460.0" width="3.55" height="24.0" fill="#b00808"/>
<rect x="303.46" y="460.0" width="3.55" height="20.3" fill="#b00808"/>
<rect x="307.39" y="460.0" width="3.55" height="14.5" fill="#b00808"/>
<rect x="311.31" y="460.0" width="3.55" height="7.6" fill="#484848"/>
<rect x="315.24" y="460.0" width="3.55" height="5.3" fill="#484848"/>
<rect x="319.17" y="460.0" width="3.55" height="1.0" fill="#484848"/>
<rect x="323.10" y="458.7" width="3.55" height="1.3" fill="#484848"/>
<rect x="330.95" y="460.0" width="3.55" height="0.6" fill="#484848"/>
<rect x="334.88" y="460.0" width="3.55" height="5.8" fill="#484848"/>
<rect x="338.80" y="460.0" width="3.55" height="4.4" fill="#484848"/>
<rect x="342.73" y="460.0" width="3.55" height="11.7" fill="#484848"/>
<rect x="346.66" y="460.0" width="3.55" height="4.3" fill="#484848"/>
<rect x="350.59" y="460.0" width="3.55" height="2.3" fill="#484848"/>
<rect x="354.51" y="460.0" width="3.55" height="1.7" fill="#484848"/>
<rect x="358.44" y="460.0" width="3.55" height="0.5" fill="#484848"/>
<rect x="366.29" y="448.2" width="3.55" height="11.8" fill="#484848"/>
<rect x="370.22" y="449.5" width="3.55" height="10.5" fill="#484848"/>
<rect x="374.15" y="460.0" width="3.55" height="2.6" fill="#484848"/>
<rect x="378.07" y="460.0" width="3.55" height="5.6" fill="#484848"/>
<rect x="382.00" y="446.6" width="3.55" height="13.4" fill="#484848"/>
<rect x="385.93" y="443.3" width="3.55" height="16.7" fill="#484848"/>
<rect x="389.86" y="440.2" width="3.55" height="19.8" fill="#484848"/>
<rect x="393.78" y="439.7" width="3.55" height="20.3" fill="#484848"/>
<rect x="397.71" y="428.8" width="3.55" height="31.2" fill="#16a674"/>
<rect x="401.64" y="422.4" width="3.55" height="37.6" fill="#16a674"/>
<rect x="405.56" y="428.2" width="3.55" height="31.8" fill="#16a674"/>
<rect x="409.49" y="441.4" width="3.55" height="18.6" fill="#484848"/>
<rect x="413.42" y="422.4" width="3.55" height="37.6" fill="#16a674"/>
<rect x="417.34" y="426.5" width="3.55" height="33.5" fill="#16a674"/>
<rect x="421.27" y="427.3" width="3.55" height="32.7" fill="#16a674"/>
<rect x="425.20" y="431.9" width="3.55" height="28.1" fill="#16a674"/>
<rect x="429.12" y="436.3" width="3.55" height="23.7" fill="#16a674"/>
<rect x="433.05" y="444.0" width="3.55" height="16.0" fill="#484848"/>
<rect x="436.98" y="456.0" width="3.55" height="4.0" fill="#484848"/>
<rect x="440.91" y="452.2" width="3.55" height="7.8" fill="#484848"/>
<rect x="444.83" y="453.8" width="3.55" height="6.2" fill="#484848"/>
<rect x="448.76" y="435.2" width="3.55" height="24.8" fill="#16a674"/>
<rect x="452.69" y="433.9" width="3.55" height="26.1" fill="#16a674"/>
<rect x="456.61" y="419.2" width="3.55" height="40.8" fill="#16a674"/>
<rect x="460.54" y="404.8" width="3.55" height="55.2" fill="#1ee9a2"/>
<rect x="464.47" y="395.0" width="3.55" height="65.0" fill="#1ee9a2"/>
<rect x="468.40" y="392.2" width="3.55" height="67.8" fill="#1ee9a2"/>
<rect x="472.32" y="385.6" width="3.55" height="74.4" fill="#1ee9a2"/>
<rect x="476.25" y="391.0" width="3.55" height="69.0" fill="#1ee9a2"/>
<rect x="480.18" y="397.9" width="3.55" height="62.1" fill="#1ee9a2"/>
<rect x="484.10" y="401.2" width="3.55" height="58.8" fill="#1ee9a2"/>
<rect x="488.03" y="411.3" width="3.55" height="48.7" fill="#1ee9a2"/>
<rect x="491.96" y="417.2" width="3.55" height="42.8" fill="#16a674"/>
<rect x="495.88" y="417.9" width="3.55" height="42.1" fill="#16a674"/>
<rect x="499.81" y="421.6" width="3.55" height="38.4" fill="#16a674"/>
<rect x="503.74" y="427.0" width="3.55" height="33.0" fill="#16a674"/>
<rect x="507.67" y="429.3" width="3.55" height="30.7" fill="#16a674"/>
<rect x="511.59" y="440.4" width="3.55" height="19.6" fill="#484848"/>
<rect x="515.52" y="441.3" width="3.55" height="18.7" fill="#484848"/>
<rect x="519.45" y="438.0" width="3.55" height="22.0" fill="#484848"/>
<rect x="523.37" y="435.2" width="3.55" height="24.8" fill="#16a674"/>
<rect x="527.30" y="434.2" width="3.55" height="25.8" fill="#16a674"/>
<rect x="531.23" y="428.8" width="3.55" height="31.2" fill="#16a674"/>
<rect x="535.15" y="425.9" width="3.55" height="34.1" fill="#16a674"/>
<rect x="539.08" y="426.3" width="3.55" height="33.7" fill="#16a674"/>
<rect x="543.01" y="435.0" width="3.55" height="25.0" fill="#16a674"/>
<rect x="546.94" y="430.1" width="3.55" height="29.9" fill="#16a674"/>
<rect x="550.86" y="430.6" width="3.55" height="29.4" fill="#16a674"/>
<rect x="554.79" y="430.1" width="3.55" height="29.9" fill="#16a674"/>
<rect x="558.72" y="426.0" width="3.55" height="34.0" fill="#16a674"/>
<rect x="562.64" y="407.7" width="3.55" height="52.3" fill="#1ee9a2"/>
<rect x="566.57" y="378.2" width="3.55" height="81.8" fill="#1ee9a2"/>
<rect x="570.50" y="377.4" width="3.55" height="82.6" fill="#1ee9a2"/>
<rect x="574.42" y="376.4" width="3.55" height="83.6" fill="#1ee9a2"/>
<rect x="578.35" y="390.3" width="3.55" height="69.7" fill="#1ee9a2"/>
<rect x="582.28" y="396.5" width="3.55" height="63.5" fill="#1ee9a2"/>
<rect x="586.21" y="404.7" width="3.55" height="55.3" fill="#1ee9a2"/>
<rect x="590.13" y="408.3" width="3.55" height="51.7" fill="#1ee9a2"/>
<rect x="594.06" y="414.2" width="3.55" height="45.8" fill="#16a674"/>
<rect x="597.99" y="421.9" width="3.55" height="38.1" fill="#16a674"/>
<rect x="601.91" y="430.6" width="3.55" height="29.4" fill="#16a674"/>
<rect x="605.84" y="433.3" width="3.55" height="26.7" fill="#16a674"/>
<rect x="609.77" y="435.0" width="3.55" height="25.0" fill="#16a674"/>
<rect x="613.69" y="449.7" width="3.55" height="10.3" fill="#484848"/>
<rect x="617.62" y="449.7" width="3.55" height="10.3" fill="#484848"/>
<rect x="621.55" y="451.3" width="3.55" height="8.7" fill="#484848"/>
<rect x="625.48" y="448.1" width="3.55" height="11.9" fill="#484848"/>
<rect x="629.40" y="445.3" width="3.55" height="14.7" fill="#484848"/>
<rect x="633.33" y="432.5" width="3.55" height="27.5" fill="#16a674"/>
<rect x="637.26" y="424.3" width="3.55" height="35.7" fill="#16a674"/>
<rect x="641.18" y="408.3" width="3.55" height="51.7" fill="#1ee9a2"/>
<rect x="645.11" y="405.5" width="3.55" height="54.5" fill="#1ee9a2"/>
<rect x="649.04" y="414.9" width="3.55" height="45.1" fill="#16a674"/>
<rect x="652.96" y="412.9" width="3.55" height="47.1" fill="#1ee9a2"/>
<rect x="656.89" y="410.0" width="3.55" height="50.0" fill="#1ee9a2"/>
<rect x="660.82" y="420.2" width="3.55" height="39.8" fill="#16a674"/>
<rect x="664.75" y="434.0" width="3.55" height="26.0" fill="#16a674"/>
<rect x="668.67" y="449.0" width="3.55" height="11.0" fill="#484848"/>
<rect x="672.60" y="450.1" width="3.55" height="9.9" fill="#484848"/>
<rect x="676.53" y="446.4" width="3.55" height="13.6" fill="#484848"/>
<rect x="680.45" y="457.4" width="3.55" height="2.6" fill="#484848"/>
<rect x="684.38" y="460.0" width="3.55" height="10.6" fill="#ff0606"/>
<rect x="688.31" y="460.0" width="3.55" height="16.0" fill="#ff0606"/>
<rect x="692.23" y="460.0" width="3.55" height="23.6" fill="#ff0606"/>
<rect x="696.16" y="460.0" width="3.55" height="35.6" fill="#ff0606"/>
<rect x="700.09" y="460.0" width="3.55" height="32.2" fill="#ff0606"/>
<rect x="704.02" y="460.0" width="3.55" height="19.8" fill="#ff0606"/>
<rect x="707.94" y="460.0" width="3.55" height="11.2" fill="#ff0606"/>
<rect x="711.87" y="460.0" width="3.55" height="6.5" fill="#b00808"/>
<rect x="715.80" y="458.5" width="3.55" height="1.5" fill="#484848"/>
<rect x="719.72" y="450.9" width="3.55" height="9.1" fill="#484848"/>
<rect x="723.65" y="441.1" width="3.55" height="18.9" fill="#484848"/>
<rect x="727.58" y="429.4" width="3.55" height="30.6" fill="#16a674"/>
<rect x="731.50" y="429.9" width="3.55" height="30.1" fill="#16a674"/>
<rect x="735.43" y="435.2" width="3.55" height="24.8" fill="#16a674"/>
<rect x="739.36" y="432.3" width="3.55" height="27.7" fill="#16a674"/>
<rect x="743.29" y="460.0" width="3.55" height="16.7" fill="#ff0606"/>
<rect x="747.21" y="460.0" width="3.55" height="22.1" fill="#ff0606"/>
<rect x="751.14" y="460.0" width="3.55" height="24.5" fill="#ff0606"/>
<rect x="755.07" y="460.0" width="3.55" height="17.6" fill="#ff0606"/>
<rect x="762.92" y="460.0" width="3.55" height="38.3" fill="#ff0606"/>
<rect x="766.85" y="460.0" width="3.55" height="52.3" fill="#ff0606"/>
<rect x="770.77" y="460.0" width="3.55" height="58.6" fill="#ff0606"/>
<rect x="774.70" y="460.0" width="3.55" height="61.2" fill="#ff0606"/>
<rect x="778.63" y="460.0" width="3.55" height="42.1" fill="#ff0606"/>
<rect x="782.56" y="460.0" width="3.55" height="39.8" fill="#ff0606"/>
<rect x="786.48" y="460.0" width="3.55" height="42.4" fill="#ff0606"/>
<rect x="790.41" y="460.0" width="3.55" height="41.5" fill="#ff0606"/>
<rect x="794.34" y="460.0" width="3.55" height="48.5" fill="#ff0606"/>
<rect x="798.26" y="460.0" width="3.55" height="47.4" fill="#ff0606"/>
<rect x="802.19" y="460.0" width="3.55" height="38.9" fill="#ff0606"/>
<rect x="806.12" y="460.0" width="3.55" height="38.9" fill="#ff0606"/>
<rect x="810.04" y="460.0" width="3.55" height="26.2" fill="#ff0606"/>
<rect x="813.97" y="460.0" width="3.55" height="38.9" fill="#ff0606"/>
<rect x="817.90" y="460.0" width="3.55" height="45.9" fill="#ff0606"/>
<rect x="821.83" y="460.0" width="3.55" height="53.6" fill="#ff0606"/>
<rect x="825.75" y="460.0" width="3.55" height="54.6" fill="#ff0606"/>
</g>
<line x1="0" y1="460.0" x2="894" y2="460.0" stroke="#b4b4b4" stroke-opacity="0.8" stroke-width="1" stroke-dasharray="2.1 2.1"/>
<polyline points="0,420.9 49,418.8 98,416.3 150,415.5 213,414.3 254,413 290,414.6 340,416 390,416.7 460,416.2 475,414.6 491,413.9 540,414.1 595,413.2 645,412.6 660,411.7 680,411.5 684,413.1 828,413.2" fill="none" stroke="#ea1a1a" stroke-width="1.75" stroke-opacity="0.85" stroke-linejoin="round"/>
<polyline points="0,489.6 24,489.6 32,487.5 40,485.1 58,484.4 150,483.5 240,482.9 273,484.2 294,485.8 299,487.1 400,487.1 406,484.9 448,483 464,480.1 487,475.3 509,473.3 612,473.3 622,470.4 631,467.9 647,467.9 660,466.3 682,466.1 690,468 709,472.5 742,472.9 758,475.5 778,477.4 790,479.2 798,482.2 814,484.2 828,489.5" fill="none" stroke="#2ce8a6" stroke-width="1.65" stroke-opacity="0.97" stroke-linejoin="round"/>
<text x="912.5" y="374.1" font-family="Liberation Sans, Arial, sans-serif" font-size="7.05" fill="#d6d6d6" stroke="#d6d6d6" stroke-width="0.25" text-anchor="end">3.00</text>
<text x="912.5" y="403.4" font-family="Liberation Sans, Arial, sans-serif" font-size="7.05" fill="#d6d6d6" stroke="#d6d6d6" stroke-width="0.25" text-anchor="end">2.00</text>
<text x="912.5" y="432.8" font-family="Liberation Sans, Arial, sans-serif" font-size="7.05" fill="#d6d6d6" stroke="#d6d6d6" stroke-width="0.25" text-anchor="end">1.00</text>
<text x="912.5" y="462.1" font-family="Liberation Sans, Arial, sans-serif" font-size="7.05" fill="#d6d6d6" stroke="#d6d6d6" stroke-width="0.25" text-anchor="end">0.00</text>
<text x="912.5" y="491.6" font-family="Liberation Sans, Arial, sans-serif" font-size="7.05" fill="#d6d6d6" stroke="#d6d6d6" stroke-width="0.25" text-anchor="end">-1.00</text>
<text x="912.5" y="521.1" font-family="Liberation Sans, Arial, sans-serif" font-size="7.05" fill="#d6d6d6" stroke="#d6d6d6" stroke-width="0.25" text-anchor="end">-2.00</text>
<rect x="838.5" y="409.4" width="77.4" height="8.5" fill="#f20a0a"/>
<line x1="893.6" y1="409.4" x2="893.6" y2="417.9" stroke="#ff5a5a" stroke-width="0.5"/>
<text x="841.8" y="416.1" font-family="Liberation Sans, Arial, sans-serif" font-size="6.9" fill="#fff" stroke="#fff" stroke-width="0.2" textLength="49.3" lengthAdjust="spacingAndGlyphs">Upper Threshold</text>
<text x="912.5" y="416.1" font-family="Liberation Sans, Arial, sans-serif" font-size="7.05" fill="#fff" stroke="#fff" stroke-width="0.2" text-anchor="end">1.58</text>
<rect x="840.4" y="486" width="79.6" height="7.7" fill="#1ee9a2"/>
<line x1="893.6" y1="486" x2="893.6" y2="493.7" stroke="#0b7a55" stroke-width="0.5"/>
<text x="842.2" y="492.4" font-family="Liberation Sans, Arial, sans-serif" font-size="6.9" fill="#04281b" stroke="#04281b" stroke-width="0.2" textLength="49.8" lengthAdjust="spacingAndGlyphs">Lower Threshold</text>
<text x="916" y="492.4" font-family="Liberation Sans, Arial, sans-serif" font-size="7.05" fill="#04281b" stroke="#04281b" stroke-width="0.2" text-anchor="end">−1.02</text>
<rect x="865.6" y="510.4" width="54" height="8" fill="#f20a0a"/>
<line x1="893.6" y1="510.4" x2="893.6" y2="518.4" stroke="#ff5a5a" stroke-width="0.5"/>
<text x="867.6" y="516.9" font-family="Liberation Sans, Arial, sans-serif" font-size="6.9" fill="#fff" stroke="#fff" stroke-width="0.2" textLength="24.4" lengthAdjust="spacingAndGlyphs">Z-Score</text>
<text x="916" y="516.9" font-family="Liberation Sans, Arial, sans-serif" font-size="7.05" fill="#fff" stroke="#fff" stroke-width="0.2" text-anchor="end">−1.85</text>
<text x="3.2" y="546.2" font-family="Liberation Sans, Arial, sans-serif" font-size="7.05" fill="#d6d6d6" stroke="#d6d6d6" stroke-width="0.22" text-anchor="middle">04:30</text>
<text x="38.5" y="546.2" font-family="Liberation Sans, Arial, sans-serif" font-size="7.05" fill="#d6d6d6" stroke="#d6d6d6" stroke-width="0.22" text-anchor="middle">06:00</text>
<text x="73.8" y="546.2" font-family="Liberation Sans, Arial, sans-serif" font-size="7.05" fill="#d6d6d6" stroke="#d6d6d6" stroke-width="0.22" text-anchor="middle">07:30</text>
<text x="109.2" y="546.2" font-family="Liberation Sans, Arial, sans-serif" font-size="7.05" fill="#d6d6d6" stroke="#d6d6d6" stroke-width="0.22" text-anchor="middle">09:00</text>
<text x="144.5" y="546.2" font-family="Liberation Sans, Arial, sans-serif" font-size="7.05" fill="#d6d6d6" stroke="#d6d6d6" stroke-width="0.22" text-anchor="middle">10:30</text>
<text x="179.9" y="546.2" font-family="Liberation Sans, Arial, sans-serif" font-size="7.05" fill="#d6d6d6" stroke="#d6d6d6" stroke-width="0.22" text-anchor="middle">12:00</text>
<text x="215.2" y="546.2" font-family="Liberation Sans, Arial, sans-serif" font-size="7.05" fill="#d6d6d6" stroke="#d6d6d6" stroke-width="0.22" text-anchor="middle">13:30</text>
<text x="250.6" y="546.2" font-family="Liberation Sans, Arial, sans-serif" font-size="7.05" fill="#d6d6d6" stroke="#d6d6d6" stroke-width="0.22" text-anchor="middle">15:00</text>
<text x="285.9" y="546.2" font-family="Liberation Sans, Arial, sans-serif" font-size="7.05" fill="#d6d6d6" stroke="#d6d6d6" stroke-width="0.22" text-anchor="middle">16:30</text>
<text x="321.2" y="546.2" font-family="Liberation Sans, Arial, sans-serif" font-size="7.05" fill="#d6d6d6" stroke="#d6d6d6" stroke-width="0.22" text-anchor="middle">18:00</text>
<text x="368.4" y="546.2" font-family="Liberation Sans, Arial, sans-serif" font-size="7.05" fill="#d6d6d6" stroke="#d6d6d6" stroke-width="0.22" text-anchor="middle">20:00</text>
<text x="415.5" y="546.2" font-family="Liberation Sans, Arial, sans-serif" font-size="7.05" fill="#f4f4f4" stroke="#f4f4f4" stroke-width="0.22" text-anchor="middle" font-weight="bold">14</text>
<text x="462.6" y="546.2" font-family="Liberation Sans, Arial, sans-serif" font-size="7.05" fill="#d6d6d6" stroke="#d6d6d6" stroke-width="0.22" text-anchor="middle">01:00</text>
<text x="509.7" y="546.2" font-family="Liberation Sans, Arial, sans-serif" font-size="7.05" fill="#d6d6d6" stroke="#d6d6d6" stroke-width="0.22" text-anchor="middle">03:00</text>
<text x="545.1" y="546.2" font-family="Liberation Sans, Arial, sans-serif" font-size="7.05" fill="#d6d6d6" stroke="#d6d6d6" stroke-width="0.22" text-anchor="middle">04:30</text>
<text x="580.4" y="546.2" font-family="Liberation Sans, Arial, sans-serif" font-size="7.05" fill="#d6d6d6" stroke="#d6d6d6" stroke-width="0.22" text-anchor="middle">06:00</text>
<text x="615.8" y="546.2" font-family="Liberation Sans, Arial, sans-serif" font-size="7.05" fill="#d6d6d6" stroke="#d6d6d6" stroke-width="0.22" text-anchor="middle">07:30</text>
<text x="651.1" y="546.2" font-family="Liberation Sans, Arial, sans-serif" font-size="7.05" fill="#d6d6d6" stroke="#d6d6d6" stroke-width="0.22" text-anchor="middle">09:00</text>
<text x="686.5" y="546.2" font-family="Liberation Sans, Arial, sans-serif" font-size="7.05" fill="#d6d6d6" stroke="#d6d6d6" stroke-width="0.22" text-anchor="middle">10:30</text>
<text x="721.8" y="546.2" font-family="Liberation Sans, Arial, sans-serif" font-size="7.05" fill="#d6d6d6" stroke="#d6d6d6" stroke-width="0.22" text-anchor="middle">12:00</text>
<text x="757.1" y="546.2" font-family="Liberation Sans, Arial, sans-serif" font-size="7.05" fill="#d6d6d6" stroke="#d6d6d6" stroke-width="0.22" text-anchor="middle">13:30</text>
<text x="792.5" y="546.2" font-family="Liberation Sans, Arial, sans-serif" font-size="7.05" fill="#d6d6d6" stroke="#d6d6d6" stroke-width="0.22" text-anchor="middle">15:00</text>
<text x="827.8" y="546.2" font-family="Liberation Sans, Arial, sans-serif" font-size="7.05" fill="#d6d6d6" stroke="#d6d6d6" stroke-width="0.22" text-anchor="middle">16:30</text>
<text x="863.2" y="546.2" font-family="Liberation Sans, Arial, sans-serif" font-size="7.05" fill="#d6d6d6" stroke="#d6d6d6" stroke-width="0.22" text-anchor="middle">18:00</text>
</svg>
</body></html>
